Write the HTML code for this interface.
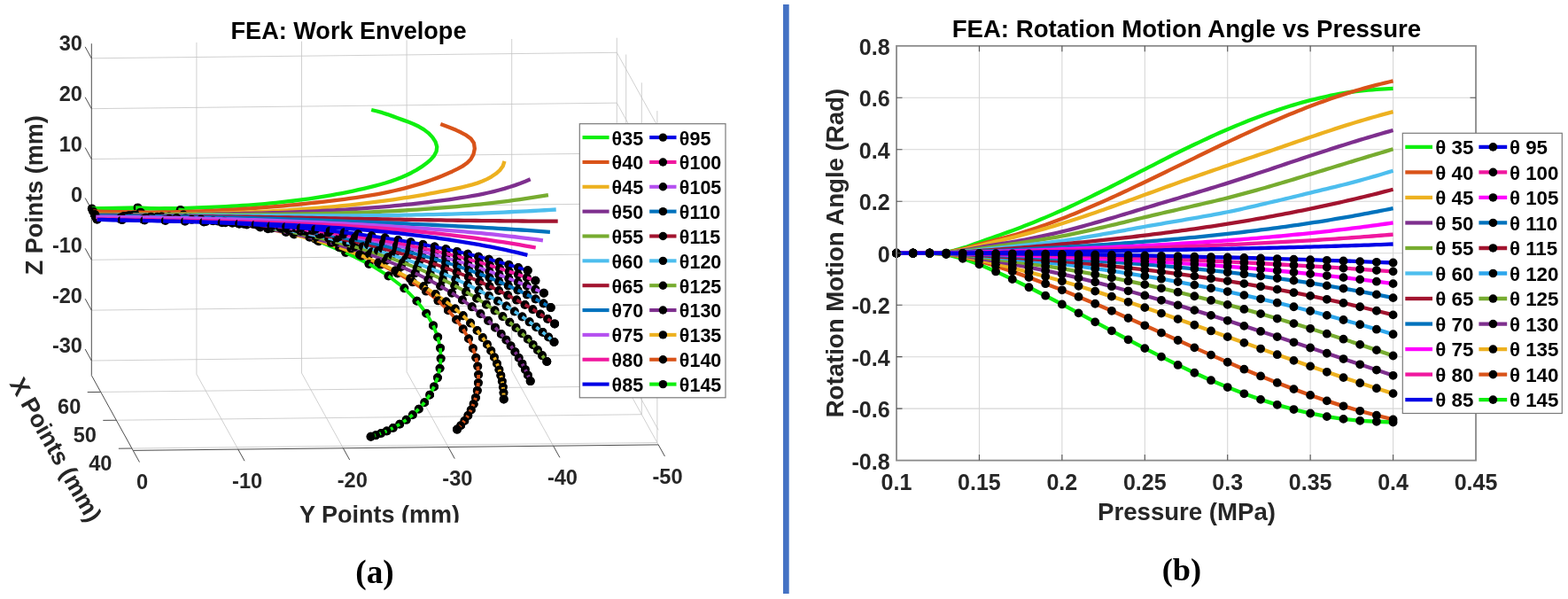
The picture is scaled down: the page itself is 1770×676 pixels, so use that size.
<!DOCTYPE html>
<html lang="en"><head><meta charset="utf-8"><title>FEA: Work Envelope and Rotation Motion Angle vs Pressure</title>
<style>html,body{margin:0;padding:0;background:#fff}body{width:1770px;height:676px;overflow:hidden}svg{display:block}text{font-family:'Liberation Sans', Arial, Helvetica, sans-serif;font-weight:bold}</style>
</head><body>
<svg width="1770" height="676" viewBox="0 0 1770 676">
<rect width="1770" height="676" fill="#fff"/>
<g id="left-chart">
<path d="M221.9 422.3L221.9 47.9M340.5 421L340.5 46.6M459.1 419.7L459.1 45.3M577.7 418.4L577.7 44M696.3 417.1L696.3 42.7M103.3 407L696.3 400.5M103.3 350.13L696.3 343.63M103.3 293.27L696.3 286.77M103.3 236.4L696.3 229.9M103.3 179.53L696.3 173.03M103.3 122.67L696.3 116.17M103.3 65.8L696.3 59.3M113.71 442.43L706.71 435.93M131.3 474.23L724.3 467.73M148.89 506.03L741.89 499.53M221.9 422.3L268.8 507.1M340.5 421L387.4 505.8M459.1 419.7L506 504.5M577.7 418.4L624.6 503.2M696.3 417.1L743.2 501.9M706.71 435.93L706.71 61.53M724.3 467.73L724.3 93.33M741.89 499.53L741.89 125.13M696.3 400.5L743.2 485.3M696.3 343.63L743.2 428.43M696.3 286.77L743.2 371.57M696.3 229.9L743.2 314.7M696.3 173.03L743.2 257.83M696.3 116.17L743.2 200.97M696.3 59.3L743.2 144.1" stroke="#c4c4c4" stroke-width="0.8" fill="none"/>
<path d="M103.3 49.2L103.3 423.6M103.3 423.6L150.2 508.4M150.2 508.4L743.2 501.9M103.3 407L96.14 394.04M103.3 350.13L96.14 337.18M103.3 293.27L96.14 280.31M103.3 236.4L96.14 223.45M103.3 179.53L96.14 166.58M103.3 122.67L96.14 109.72M103.3 65.8L96.14 52.85M113.71 442.43L98.71 442.59M131.3 474.23L116.3 474.39M148.89 506.03L133.89 506.19M150.2 508.4L157.46 521.53M268.8 507.1L276.06 520.23M387.4 505.8L394.66 518.93M506 504.5L513.26 517.63M624.6 503.2L631.86 516.33M743.2 501.9L750.46 515.03" stroke="#4d4d4d" stroke-width="1" fill="none"/>
<g fill="none" stroke-linejoin="round" stroke-width="4.3">
<polyline points="103.8,235.5 110.07,235.52 116.35,235.53 122.63,235.55 128.91,235.56 135.2,235.56 141.49,235.56 147.79,235.55 154.08,235.53 160.38,235.5 166.69,235.47 172.99,235.41 179.29,235.35 185.6,235.27 191.91,235.18 198.21,235.07 204.52,234.94 210.83,234.79 217.14,234.62 223.44,234.43 229.75,234.22 236.05,233.98 242.35,233.72 248.65,233.43 254.95,233.11 261.24,232.77 267.54,232.39 273.83,231.99 280.11,231.55 286.39,231.08 292.67,230.57 298.94,230.03 305.21,229.45 311.47,228.84 317.72,228.18 323.97,227.48 330.22,226.75 336.46,225.97 342.69,225.14 348.91,224.27 355.13,223.35 361.33,222.39 367.53,221.38 373.73,220.31 379.91,219.2 386.08,218.03 392.25,216.81 398.4,215.54 404.55,214.21 410.68,212.82 416.81,211.38 422.92,209.86 429.01,208.26 435.06,206.53 441.07,204.65 447.03,202.58 452.92,200.3 458.73,197.77 464.45,194.96 470.08,191.84 475.59,188.38 480.98,184.54 485.96,180.33 490.03,175.77 492.63,170.86 493.25,165.63 491.6,160.19 488.18,154.88 483.61,150.09 478.4,146.09 472.76,142.78 466.84,140 460.79,137.59 454.76,135.38 448.9,133.24 443.16,131.12 437.45,129.09 431.63,127.19 425.59,125.48 419.2,124" stroke="#0FEF0F"/>
<path d="M103.8 235.5h0M155.58 234.4h0M203.77 236.92h0M248.07 242.46h0M288.68 250.49h0M325.99 260.59h0M360.01 272.29h0M390.33 284.93h0" stroke="#000" stroke-width="10" stroke-linecap="round"/>
<polyline points="103.8,235.5 155.58,234.4 203.77,236.92 248.07,242.46 288.68,250.49 325.99,260.59 360.01,272.29 390.33,284.93 416.59,297.92" stroke="#0FEF0F"/>
<path d="M101.39 239.88A5 5 0 0 1 101.21 231.22ZM153.02 238.69A5 5 0 0 1 153.15 230.04ZM200.9 241.01A5 5 0 0 1 201.65 232.39ZM244.92 246.34A5 5 0 0 1 246.29 237.79ZM285.26 254.14A5 5 0 0 1 287.22 245.71ZM322.86 264.49A5 5 0 0 1 325.58 255.61ZM357.34 276.52A5 5 0 0 1 360.81 267.35ZM388.05 289.38A5 5 0 0 1 392.18 280.28Z" fill="#000" stroke="none"/>
<polyline points="105.34,238.7 111.68,238.9 118.02,239.08 124.35,239.24 130.68,239.37 137.01,239.47 143.34,239.55 149.66,239.6 155.99,239.63 162.3,239.64 168.62,239.62 174.93,239.58 181.25,239.52 187.55,239.43 193.86,239.31 200.17,239.18 206.47,239.02 212.77,238.83 219.07,238.63 225.37,238.4 231.67,238.15 237.96,237.87 244.26,237.57 250.55,237.25 256.84,236.91 263.13,236.55 269.42,236.16 275.71,235.75 282,235.32 288.28,234.87 294.57,234.4 300.86,233.9 307.14,233.39 313.43,232.85 319.71,232.29 326,231.71 332.28,231.11 338.57,230.49 344.85,229.85 351.14,229.19 357.43,228.51 363.71,227.81 370,227.09 376.29,226.34 382.57,225.58 388.86,224.78 395.13,223.94 401.4,223.06 407.67,222.14 413.91,221.15 420.15,220.11 426.37,219.01 432.57,217.83 438.75,216.57 444.92,215.24 451.05,213.81 457.16,212.29 463.25,210.67 469.3,208.94 475.32,207.11 481.31,205.15 487.26,203.08 493.18,200.87 499.05,198.53 504.88,196.05 510.67,193.43 516.41,190.65 522.01,187.63 527.13,184.09 531.41,179.7 534.47,174.16 535.86,167.74 534.99,161.57 531.53,156.58 526.34,152.69 520.56,149.54 514.86,146.84 509.16,144.46 503.35,142.26 497.3,140.1" stroke="#D95319"/>
<path d="M105.34 238.7h0M158.75 239.65h0M207.13 242.58h0M250.69 247.33h0M289.77 253.63h0M324.71 261.21h0M355.86 269.78h0M383.54 279.03h0" stroke="#000" stroke-width="10" stroke-linecap="round"/>
<polyline points="105.34,238.7 158.75,239.65 207.13,242.58 250.69,247.33 289.77,253.63 324.71,261.21 355.86,269.78 383.54,279.03 408.06,288.72" stroke="#D95319"/>
<path d="M102.76 242.98A5 5 0 0 1 102.91 234.33ZM156.08 243.88A5 5 0 0 1 156.41 235.23ZM204.28 246.69A5 5 0 0 1 205 238.06ZM247.64 251.29A5 5 0 0 1 248.78 242.7ZM286.51 257.43A5 5 0 0 1 288.11 248.92ZM321.79 265.27A5 5 0 0 1 323.98 256.27ZM353.39 274.12A5 5 0 0 1 356.22 264.79ZM381.45 283.58A5 5 0 0 1 384.85 274.21Z" fill="#000" stroke="none"/>
<polyline points="106.92,242 112.97,242 119.01,241.99 125.06,241.99 131.1,241.98 137.14,241.97 143.19,241.95 149.23,241.93 155.26,241.91 161.3,241.88 167.34,241.84 173.38,241.8 179.41,241.75 185.44,241.7 191.48,241.64 197.51,241.57 203.54,241.49 209.57,241.4 215.6,241.3 221.62,241.19 227.65,241.07 233.67,240.94 239.7,240.8 245.72,240.65 251.74,240.48 257.76,240.3 263.78,240.1 269.8,239.89 275.81,239.67 281.83,239.43 287.84,239.17 293.85,238.9 299.86,238.61 305.87,238.31 311.88,237.98 317.89,237.64 323.9,237.28 329.9,236.9 335.91,236.5 341.91,236.08 347.91,235.63 353.91,235.17 359.91,234.68 365.91,234.17 371.9,233.64 377.9,233.08 383.89,232.5 389.88,231.9 395.88,231.27 401.87,230.61 407.85,229.93 413.84,229.22 419.83,228.49 425.81,227.72 431.79,226.93 437.78,226.11 443.76,225.26 449.74,224.38 455.71,223.47 461.69,222.53 467.67,221.56 473.64,220.55 479.61,219.52 485.58,218.45 491.55,217.34 497.52,216.21 503.49,215.03 509.45,213.83 515.42,212.59 521.37,211.3 527.29,209.92 533.13,208.38 538.85,206.61 544.42,204.56 549.78,202.15 554.91,199.33 559.76,196.03 564.2,192.16 567.68,187.5 569.5,181.8" stroke="#EDB120"/>
<path d="M106.92 242h0M153.06 242.9h0M195.52 245.02h0M234.42 248.34h0M270 252.79h0M302.46 258.25h0M332.02 264.58h0M358.86 271.62h0M383.37 279.28h0" stroke="#000" stroke-width="10" stroke-linecap="round"/>
<polyline points="106.92,242 153.06,242.9 195.52,245.02 234.42,248.34 270,252.79 302.46,258.25 332.02,264.58 358.86,271.62 383.37,279.28 406.14,287.57" stroke="#EDB120"/>
<path d="M104.34 246.28A5 5 0 0 1 104.51 237.62ZM150.42 247.15A5 5 0 0 1 150.71 238.49ZM192.73 249.17A5 5 0 0 1 193.31 240.53ZM231.49 252.39A5 5 0 0 1 232.39 243.77ZM266.9 256.72A5 5 0 0 1 268.15 248.15ZM299.25 262.09A5 5 0 0 1 300.88 253.51ZM329.28 268.77A5 5 0 0 1 331.45 259.62ZM356.53 276.05A5 5 0 0 1 359.22 266.64ZM381.39 283.87A5 5 0 0 1 384.57 274.42Z" fill="#000" stroke="none"/>
<polyline points="107.11,242.4 113.37,242.36 119.64,242.33 125.9,242.3 132.17,242.27 138.44,242.24 144.71,242.21 150.98,242.18 157.25,242.16 163.52,242.13 169.79,242.1 176.06,242.07 182.34,242.04 188.61,242.01 194.89,241.97 201.16,241.93 207.44,241.89 213.72,241.84 219.99,241.79 226.27,241.73 232.55,241.66 238.83,241.59 245.11,241.51 251.38,241.43 257.66,241.33 263.94,241.23 270.22,241.12 276.5,240.99 282.77,240.86 289.05,240.72 295.33,240.57 301.6,240.4 307.88,240.22 314.15,240.03 320.43,239.83 326.7,239.61 332.97,239.38 339.25,239.14 345.52,238.88 351.79,238.6 358.06,238.31 364.33,238 370.59,237.67 376.86,237.32 383.12,236.96 389.39,236.58 395.65,236.18 401.91,235.76 408.17,235.31 414.42,234.85 420.68,234.37 426.93,233.86 433.18,233.33 439.43,232.78 445.68,232.21 451.93,231.61 458.17,230.98 464.41,230.34 470.65,229.66 476.89,228.96 483.13,228.24 489.36,227.48 495.59,226.7 501.82,225.89 508.04,225.05 514.26,224.17 520.47,223.24 526.66,222.25 532.84,221.19 538.99,220.06 545.13,218.83 551.23,217.51 557.31,216.08 563.35,214.54 569.35,212.87 575.32,211.06 581.24,209.11 587.11,207.01 592.93,204.74 598.7,202.31" stroke="#7E2F8E"/>
<path d="M107.11 242.4h0M150.57 242.71h0M190.83 244.56h0M228 247.66h0M262.26 251.75h0M293.81 256.58h0M322.84 261.92h0M349.54 267.69h0M374.03 273.86h0M396.48 280.34h0" stroke="#000" stroke-width="10" stroke-linecap="round"/>
<polyline points="107.11,242.4 150.57,242.71 190.83,244.56 228,247.66 262.26,251.75 293.81,256.58 322.84,261.92 349.54,267.69 374.03,273.86 396.48,280.34 417.02,287.08" stroke="#7E2F8E"/>
<path d="M104.58 246.71A5 5 0 0 1 104.64 238.05ZM147.96 246.98A5 5 0 0 1 148.18 238.32ZM188.06 248.73A5 5 0 0 1 188.61 240.08ZM225.08 251.72A5 5 0 0 1 225.95 243.11ZM259.2 255.71A5 5 0 0 1 260.36 247.13ZM290.63 260.43A5 5 0 0 1 292.06 251.89ZM320.05 266.07A5 5 0 0 1 321.86 257.02ZM347.21 272.12A5 5 0 0 1 349.41 262.7ZM372.12 278.47A5 5 0 0 1 374.7 268.9ZM394.93 285.09A5 5 0 0 1 397.87 275.54Z" fill="#000" stroke="none"/>
<polyline points="107.3,242.8 113.78,242.72 120.26,242.64 126.73,242.58 133.21,242.52 139.69,242.46 146.18,242.42 152.66,242.38 159.14,242.35 165.63,242.32 172.12,242.29 178.61,242.27 185.1,242.26 191.59,242.24 198.08,242.23 204.57,242.22 211.06,242.21 217.56,242.2 224.05,242.2 230.54,242.19 237.04,242.18 243.54,242.17 250.03,242.15 256.53,242.14 263.02,242.12 269.52,242.1 276.02,242.07 282.52,242.04 289.01,242 295.51,241.96 302.01,241.91 308.5,241.85 315,241.79 321.5,241.71 327.99,241.63 334.49,241.54 340.98,241.44 347.48,241.33 353.97,241.21 360.46,241.08 366.96,240.93 373.45,240.78 379.94,240.61 386.43,240.42 392.92,240.23 399.4,240.02 405.89,239.79 412.38,239.55 418.86,239.29 425.34,239.01 431.82,238.72 438.3,238.41 444.78,238.08 451.26,237.73 457.73,237.36 464.21,236.97 470.68,236.56 477.15,236.13 483.62,235.68 490.08,235.21 496.55,234.71 503.01,234.19 509.47,233.64 515.93,233.07 522.38,232.48 528.84,231.86 535.29,231.22 541.74,230.54 548.18,229.84 554.62,229.12 561.06,228.36 567.5,227.58 573.94,226.77 580.37,225.92 586.8,225.05 593.23,224.14 599.65,223.21 606.07,222.24 612.49,221.24 618.9,220.2" stroke="#77AC30"/>
<path d="M107.3 242.8h0M146.18 243.23h0M182.67 244.59h0M216.82 246.8h0M248.76 249.77h0M278.61 253.42h0M306.47 257.64h0M332.45 262.34h0M356.67 267.45h0M379.23 272.88h0" stroke="#000" stroke-width="10" stroke-linecap="round"/>
<polyline points="107.3,242.8 146.18,243.23 182.67,244.59 216.82,246.8 248.76,249.77 278.61,253.42 306.47,257.64 332.45,262.34 356.67,267.45 379.23,272.88 400.22,278.55" stroke="#77AC30"/>
<path d="M104.76 247.1A5 5 0 0 1 104.85 238.44ZM143.58 247.5A5 5 0 0 1 143.79 238.84ZM179.95 248.79A5 5 0 0 1 180.39 240.14ZM213.99 250.92A5 5 0 0 1 214.67 242.29ZM245.82 253.81A5 5 0 0 1 246.74 245.2ZM275.54 257.37A5 5 0 0 1 276.71 248.79ZM303.44 261.61A5 5 0 0 1 304.88 252.89ZM329.89 266.64A5 5 0 0 1 331.7 257.4ZM354.54 271.98A5 5 0 0 1 356.69 262.45ZM377.49 277.57A5 5 0 0 1 379.95 267.93Z" fill="#000" stroke="none"/>
<polyline points="107.45,243.1 114.03,243.07 120.62,243.05 127.2,243.03 133.79,243.01 140.38,243 146.96,242.99 153.55,242.99 160.14,242.99 166.72,243 173.31,243.01 179.9,243.02 186.48,243.03 193.07,243.05 199.66,243.06 206.25,243.08 212.83,243.11 219.42,243.13 226.01,243.15 232.6,243.18 239.18,243.2 245.77,243.23 252.36,243.25 258.95,243.28 265.54,243.3 272.12,243.33 278.71,243.35 285.3,243.37 291.89,243.4 298.48,243.41 305.06,243.43 311.65,243.45 318.24,243.46 324.83,243.47 331.42,243.48 338,243.48 344.59,243.48 351.18,243.47 357.77,243.47 364.35,243.45 370.94,243.44 377.53,243.42 384.12,243.39 390.7,243.36 397.29,243.32 403.88,243.28 410.46,243.23 417.05,243.17 423.64,243.11 430.22,243.04 436.81,242.96 443.4,242.88 449.98,242.79 456.57,242.69 463.15,242.58 469.74,242.47 476.32,242.34 482.91,242.21 489.49,242.07 496.08,241.91 502.66,241.75 509.24,241.58 515.83,241.4 522.41,241.21 528.99,241 535.58,240.79 542.16,240.57 548.74,240.33 555.32,240.08 561.9,239.82 568.49,239.55 575.07,239.26 581.65,238.96 588.23,238.65 594.81,238.33 601.39,237.99 607.96,237.64 614.54,237.27 621.12,236.89 627.7,236.5" stroke="#4DBEEE"/>
<path d="M107.45 243.1h0M145.69 243.6h0M181.42 244.86h0M214.73 246.82h0M245.76 249.4h0M274.65 252.5h0M301.52 256.07h0M326.51 260h0M349.72 264.25h0M371.28 268.73h0M391.3 273.38h0" stroke="#000" stroke-width="10" stroke-linecap="round"/>
<polyline points="107.45,243.1 145.69,243.6 181.42,244.86 214.73,246.82 245.76,249.4 274.65,252.5 301.52,256.07 326.51,260 349.72,264.25 371.28,268.73 391.3,273.38 409.87,278.15" stroke="#4DBEEE"/>
<path d="M104.89 247.4A5 5 0 0 1 105.01 238.74ZM143.08 247.87A5 5 0 0 1 143.29 239.21ZM178.72 249.07A5 5 0 0 1 179.12 240.42ZM211.93 250.97A5 5 0 0 1 212.54 242.33ZM242.86 253.47A5 5 0 0 1 243.68 244.85ZM271.65 256.51A5 5 0 0 1 272.68 247.91ZM298.46 260.02A5 5 0 0 1 299.71 251.41ZM323.92 264.28A5 5 0 0 1 325.47 255.11ZM347.56 268.76A5 5 0 0 1 349.42 259.26ZM369.52 273.41A5 5 0 0 1 371.65 263.74ZM389.9 278.18A5 5 0 0 1 392.27 268.48Z" fill="#000" stroke="none"/>
<polyline points="107.59,243.4 114.2,243.39 120.81,243.39 127.42,243.39 134.03,243.4 140.64,243.42 147.25,243.44 153.86,243.46 160.47,243.49 167.08,243.53 173.69,243.57 180.3,243.61 186.91,243.66 193.52,243.72 200.13,243.77 206.74,243.84 213.35,243.9 219.95,243.97 226.56,244.05 233.17,244.13 239.78,244.21 246.39,244.29 253,244.38 259.61,244.47 266.22,244.56 272.82,244.66 279.43,244.76 286.04,244.86 292.65,244.96 299.26,245.07 305.87,245.17 312.48,245.28 319.08,245.39 325.69,245.5 332.3,245.62 338.91,245.73 345.52,245.85 352.13,245.96 358.73,246.08 365.34,246.2 371.95,246.32 378.56,246.43 385.17,246.55 391.78,246.67 398.38,246.79 404.99,246.91 411.6,247.03 418.21,247.14 424.82,247.26 431.43,247.38 438.03,247.49 444.64,247.6 451.25,247.71 457.86,247.83 464.47,247.93 471.08,248.04 477.68,248.15 484.29,248.25 490.9,248.35 497.51,248.45 504.12,248.55 510.73,248.64 517.34,248.73 523.95,248.82 530.56,248.9 537.16,248.98 543.77,249.06 550.38,249.14 556.99,249.21 563.6,249.27 570.21,249.34 576.82,249.39 583.43,249.45 590.04,249.5 596.65,249.54 603.26,249.59 609.87,249.62 616.48,249.65 623.09,249.68 629.7,249.7" stroke="#A2142F"/>
<path d="M107.59 243.4h0M143.76 243.8h0M177.67 244.85h0M209.41 246.48h0M239.1 248.63h0M266.85 251.21h0M292.78 254.16h0M317 257.42h0M339.62 260.92h0M360.73 264.62h0M380.42 268.46h0" stroke="#000" stroke-width="10" stroke-linecap="round"/>
<polyline points="107.59,243.4 143.76,243.8 177.67,244.85 209.41,246.48 239.1,248.63 266.85,251.21 292.78,254.16 317,257.42 339.62,260.92 360.73,264.62 380.42,268.46 398.8,272.4" stroke="#A2142F"/>
<path d="M105.04 247.7A5 5 0 0 1 105.14 239.04ZM141.17 248.08A5 5 0 0 1 141.35 239.42ZM175 249.07A5 5 0 0 1 175.35 240.42ZM206.65 250.65A5 5 0 0 1 207.18 242.01ZM236.25 252.74A5 5 0 0 1 236.96 244.1ZM263.92 255.26A5 5 0 0 1 264.81 246.64ZM289.77 258.15A5 5 0 0 1 290.83 249.55ZM314.3 261.62A5 5 0 0 1 315.6 252.62ZM337.35 265.38A5 5 0 0 1 338.9 255.97ZM358.87 269.26A5 5 0 0 1 360.65 259.62ZM378.95 273.24A5 5 0 0 1 380.94 263.49Z" fill="#000" stroke="none"/>
<polyline points="107.74,243.7 114.24,243.72 120.74,243.75 127.24,243.78 133.74,243.82 140.24,243.86 146.74,243.91 153.24,243.97 159.74,244.03 166.24,244.1 172.74,244.17 179.24,244.25 185.74,244.34 192.24,244.43 198.74,244.52 205.24,244.62 211.74,244.73 218.24,244.84 224.74,244.96 231.24,245.08 237.74,245.21 244.24,245.34 250.74,245.48 257.24,245.62 263.74,245.77 270.24,245.93 276.74,246.09 283.24,246.25 289.74,246.42 296.23,246.59 302.73,246.77 309.23,246.96 315.73,247.15 322.23,247.34 328.73,247.54 335.23,247.74 341.72,247.95 348.22,248.16 354.72,248.38 361.22,248.61 367.72,248.83 374.21,249.06 380.71,249.3 387.21,249.54 393.7,249.79 400.2,250.04 406.7,250.29 413.19,250.55 419.69,250.81 426.19,251.08 432.68,251.35 439.18,251.63 445.67,251.91 452.17,252.2 458.66,252.48 465.16,252.78 471.65,253.08 478.14,253.38 484.64,253.68 491.13,254 497.62,254.32 504.12,254.64 510.61,254.97 517.1,255.31 523.59,255.65 530.08,256 536.57,256.36 543.06,256.72 549.55,257.09 556.04,257.47 562.53,257.86 569.02,258.26 575.51,258.67 581.99,259.09 588.48,259.51 594.96,259.95 601.45,260.4 607.93,260.85 614.42,261.32 620.9,261.8" stroke="#0072BD"/>
<path d="M107.74 243.7h0M139.9 243.9h0M170.45 244.66h0M199.41 245.93h0M226.86 247.62h0M252.87 249.69h0M277.51 252.08h0M300.84 254.73h0M322.94 257.6h0M343.85 260.66h0M363.65 263.86h0M382.38 267.17h0" stroke="#000" stroke-width="10" stroke-linecap="round"/>
<polyline points="107.74,243.7 139.9,243.9 170.45,244.66 199.41,245.93 226.86,247.62 252.87,249.69 277.51,252.08 300.84,254.73 322.94,257.6 343.85,260.66 363.65,263.86 382.38,267.17 400.11,270.56" stroke="#0072BD"/>
<path d="M105.21 248.01A5 5 0 0 1 105.26 239.35ZM137.34 248.19A5 5 0 0 1 137.47 239.53ZM167.8 248.9A5 5 0 0 1 168.1 240.25ZM196.69 250.12A5 5 0 0 1 197.14 241.47ZM224.06 251.77A5 5 0 0 1 224.67 243.13ZM250 253.79A5 5 0 0 1 250.76 245.16ZM274.57 256.12A5 5 0 0 1 275.48 247.51ZM297.86 258.74A5 5 0 0 1 298.91 250.12ZM320.4 261.91A5 5 0 0 1 321.66 252.77ZM341.74 265.19A5 5 0 0 1 343.19 255.7ZM361.93 268.56A5 5 0 0 1 363.57 258.86ZM381.05 271.99A5 5 0 0 1 382.85 262.19Z" fill="#000" stroke="none"/>
<path d="M108.26 244.8h0M137.02 245.13h0M164.6 245.76h0M191.03 246.67h0M216.36 247.85h0M240.62 249.28h0M263.86 250.96h0M286.12 252.86h0M307.42 254.96h0M327.82 257.26h0M347.35 259.72h0M366.03 262.34h0M383.9 265.09h0" stroke="#000" stroke-width="10" stroke-linecap="round"/>
<polyline points="108.26,244.8 137.02,245.13 164.6,245.76 191.03,246.67 216.36,247.85 240.62,249.28 263.86,250.96 286.12,252.86 307.42,254.96 327.82,257.26 347.35,259.72 366.03,262.34 383.9,265.09 401,267.96" stroke="#B550F0"/>
<path d="M105.71 249.1A5 5 0 0 1 105.82 240.44ZM134.44 249.42A5 5 0 0 1 134.59 240.76ZM161.97 250.02A5 5 0 0 1 162.22 241.36ZM188.36 250.9A5 5 0 0 1 188.71 242.24ZM213.63 252.04A5 5 0 0 1 214.09 243.39ZM237.84 253.44A5 5 0 0 1 238.41 244.8ZM261.03 255.08A5 5 0 0 1 261.71 246.45ZM283.23 256.94A5 5 0 0 1 284.02 248.32ZM304.66 259.13A5 5 0 0 1 305.59 250.31ZM325.48 261.67A5 5 0 0 1 326.58 252.41ZM345.41 264.33A5 5 0 0 1 346.68 254.77ZM364.47 267.09A5 5 0 0 1 365.9 257.34ZM382.71 269.95A5 5 0 0 1 384.3 260.11Z" fill="#000" stroke="none"/>
<path d="M109.42 247.2h0M135.84 247.25h0M161.34 247.56h0M185.93 248.12h0M209.63 248.92h0M232.48 249.94h0M254.5 251.17h0M275.72 252.6h0M296.17 254.2h0M315.87 255.97h0M334.85 257.89h0M353.13 259.95h0M370.73 262.13h0M387.68 264.42h0" stroke="#000" stroke-width="10" stroke-linecap="round"/>
<polyline points="109.42,247.2 135.84,247.25 161.34,247.56 185.93,248.12 209.63,248.92 232.48,249.94 254.5,251.17 275.72,252.6 296.17,254.2 315.87,255.97 334.85,257.89 353.13,259.95 370.73,262.13 387.68,264.42 404,266.8" stroke="#F0189F"/>
<path d="M106.91 251.53A5 5 0 0 1 106.92 242.87ZM133.32 251.56A5 5 0 0 1 133.37 242.9ZM158.77 251.84A5 5 0 0 1 158.92 243.18ZM183.31 252.38A5 5 0 0 1 183.55 243.72ZM206.97 253.15A5 5 0 0 1 207.31 244.49ZM229.77 254.14A5 5 0 0 1 230.2 245.49ZM251.74 255.34A5 5 0 0 1 252.27 246.7ZM272.92 256.74A5 5 0 0 1 273.54 248.1ZM293.32 258.31A5 5 0 0 1 294.04 249.68ZM313.35 260.29A5 5 0 0 1 314.21 251.26ZM332.73 262.42A5 5 0 0 1 333.73 253.02ZM351.39 264.64A5 5 0 0 1 352.53 254.98ZM369.37 266.94A5 5 0 0 1 370.64 257.13ZM386.68 269.32A5 5 0 0 1 388.07 259.43Z" fill="#000" stroke="none"/>
<path d="M109.75 247.8h0M137.87 248.11h0M163.28 248.51h0M186.73 249.02h0M208.89 249.64h0M230.14 250.38h0M250.63 251.24h0M270.19 252.23h0M288.67 253.31h0M306.22 254.48h0M323.15 255.77h0M339.75 257.17h0M356.25 258.73h0M372.66 260.44h0M388.74 262.29h0" stroke="#000" stroke-width="10" stroke-linecap="round"/>
<polyline points="109.75,247.8 137.87,248.11 163.28,248.51 186.73,249.02 208.89,249.64 230.14,250.38 250.63,251.24 270.19,252.23 288.67,253.31 306.22,254.48 323.15,255.77 339.75,257.17 356.25,258.73 372.66,260.44 388.74,262.29 404.34,264.25" stroke="#0000E6"/>
<polyline points="108.26,244.8 114.66,244.85 121.05,244.91 127.45,244.98 133.85,245.04 140.24,245.12 146.64,245.19 153.04,245.27 159.44,245.36 165.83,245.45 172.23,245.55 178.63,245.65 185.03,245.76 191.43,245.87 197.83,245.99 204.23,246.11 210.63,246.24 217.03,246.37 223.43,246.51 229.83,246.66 236.23,246.81 242.63,246.97 249.03,247.13 255.43,247.3 261.83,247.48 268.23,247.66 274.63,247.85 281.03,248.05 287.43,248.25 293.83,248.46 300.23,248.68 306.63,248.9 313.03,249.13 319.43,249.37 325.83,249.61 332.22,249.87 338.62,250.13 345.02,250.39 351.42,250.67 357.81,250.95 364.21,251.24 370.6,251.54 377,251.85 383.39,252.16 389.79,252.49 396.18,252.82 402.57,253.16 408.97,253.51 415.36,253.86 421.75,254.23 428.14,254.6 434.53,254.99 440.92,255.38 447.31,255.78 453.69,256.19 460.08,256.61 466.47,257.04 472.85,257.48 479.23,257.93 485.62,258.39 492,258.87 498.38,259.36 504.76,259.86 511.13,260.38 517.51,260.91 523.88,261.46 530.25,262.02 536.62,262.61 542.99,263.21 549.36,263.83 555.72,264.48 562.09,265.14 568.45,265.83 574.81,266.53 581.16,267.26 587.51,268.02 593.86,268.8 600.21,269.61 606.56,270.44 612.9,271.3" stroke="#B550F0"/>
<polyline points="109.42,247.2 115.69,247.31 121.97,247.42 128.24,247.52 134.52,247.63 140.8,247.73 147.09,247.83 153.37,247.93 159.65,248.03 165.94,248.13 172.23,248.23 178.52,248.33 184.8,248.43 191.09,248.53 197.38,248.64 203.68,248.75 209.97,248.86 216.26,248.97 222.55,249.09 228.85,249.21 235.14,249.34 241.44,249.47 247.73,249.6 254.03,249.74 260.32,249.89 266.62,250.05 272.91,250.21 279.21,250.38 285.5,250.55 291.8,250.74 298.09,250.93 304.38,251.13 310.68,251.35 316.97,251.57 323.26,251.8 329.56,252.04 335.85,252.3 342.14,252.56 348.43,252.84 354.72,253.13 361,253.43 367.29,253.74 373.58,254.07 379.86,254.42 386.14,254.77 392.42,255.14 398.7,255.53 404.98,255.93 411.26,256.35 417.54,256.79 423.81,257.24 430.08,257.71 436.35,258.19 442.62,258.7 448.89,259.22 455.15,259.76 461.41,260.32 467.67,260.9 473.93,261.51 480.19,262.13 486.44,262.77 492.69,263.43 498.94,264.12 505.18,264.83 511.43,265.56 517.67,266.31 523.9,267.09 530.14,267.89 536.37,268.71 542.6,269.56 548.82,270.43 555.05,271.33 561.26,272.26 567.48,273.21 573.69,274.19 579.9,275.2 586.11,276.23 592.31,277.29 598.51,278.38 604.7,279.5" stroke="#F0189F"/>
<polyline points="109.7,247.8 115.86,247.95 122.02,248.1 128.18,248.24 134.35,248.38 140.51,248.52 146.68,248.66 152.85,248.79 159.02,248.92 165.2,249.06 171.37,249.19 177.55,249.32 183.73,249.46 189.91,249.59 196.09,249.73 202.27,249.87 208.46,250.01 214.64,250.16 220.83,250.31 227.01,250.46 233.2,250.62 239.39,250.79 245.58,250.96 251.76,251.13 257.95,251.32 264.14,251.51 270.33,251.71 276.52,251.92 282.7,252.13 288.89,252.36 295.08,252.6 301.27,252.84 307.45,253.1 313.64,253.37 319.82,253.65 326,253.94 332.19,254.25 338.37,254.57 344.55,254.9 350.73,255.25 356.9,255.62 363.08,255.99 369.25,256.39 375.43,256.8 381.6,257.23 387.77,257.68 393.93,258.14 400.1,258.62 406.26,259.12 412.42,259.64 418.57,260.19 424.73,260.75 430.88,261.33 437.03,261.93 443.18,262.56 449.32,263.21 455.46,263.88 461.6,264.57 467.73,265.29 473.86,266.04 479.98,266.81 486.11,267.61 492.22,268.43 498.34,269.29 504.45,270.18 510.55,271.09 516.65,272.04 522.74,273.03 528.83,274.04 534.92,275.1 540.99,276.19 547.07,277.31 553.13,278.48 559.19,279.68 565.24,280.93 571.29,282.21 577.33,283.54 583.36,284.92 589.38,286.33 595.4,287.8" stroke="#0000E6"/>
<path d="M107.2 252.1A5 5 0 0 1 107.3 243.44ZM135.32 252.4A5 5 0 0 1 135.43 243.74ZM160.7 252.79A5 5 0 0 1 160.86 244.14ZM184.12 253.29A5 5 0 0 1 184.33 244.63ZM206.25 253.89A5 5 0 0 1 206.53 245.23ZM227.48 254.61A5 5 0 0 1 227.81 245.95ZM247.93 255.45A5 5 0 0 1 248.33 246.8ZM267.46 256.41A5 5 0 0 1 267.93 247.77ZM285.91 257.47A5 5 0 0 1 286.45 248.83ZM303.57 258.72A5 5 0 0 1 304.2 249.91ZM320.86 260.21A5 5 0 0 1 321.6 251.01ZM337.82 261.79A5 5 0 0 1 338.67 252.29ZM354.68 263.48A5 5 0 0 1 355.65 253.77ZM371.44 265.29A5 5 0 0 1 372.52 255.44ZM387.87 267.21A5 5 0 0 1 389.06 257.3Z" fill="#000" stroke="none"/>
</g>
<g fill="none" stroke-linejoin="round" stroke-width="3.8">
<path d="M416.59 297.92h0M438.54 311.38h0M456.42 325.36h0M470.54 339.63h0M481.28 353.73h0M489.07 367.38h0M494.24 380.45h0M497.02 392.9h0M497.64 404.7h0M496.51 415.81h0M493.92 426.36h0M490.04 436.4h0M485.05 445.74h0M479.17 454.22h0M472.65 461.73h0M465.76 468.2h0M458.58 473.84h0M451.11 478.79h0M443.64 482.99h0M436.56 486.39h0M430.05 489.06h0M424.11 491.16h0M418.6 492.8h0M408.06 288.72h0M429.73 298.6h0M448.85 308.48h0M465.8 318.35h0M481.04 328.61h0M494.6 339.37h0M505.97 350.21h0M515.18 360.79h0M522.8 371.44h0M529.08 382.32h0M533.93 393.18h0M537.3 403.68h0M539.28 413.57h0M540.09 422.98h0M539.89 432.15h0M538.78 440.9h0M536.94 448.89h0M534.56 456.1h0M531.68 462.76h0M528.24 469.09h0M524.28 475.04h0M520.06 480.31h0M516 484.6h0M406.14 287.57h0M427.3 296.44h0M446.36 305.5h0M463.15 314.42h0M478.13 323.21h0M491.68 331.93h0M503.63 340.42h0M513.81 348.46h0M522.79 356.37h0M531.13 364.62h0M538.61 373.03h0M544.88 381.1h0M550.04 388.72h0M554.36 396.08h0M558.02 403.33h0M561.06 410.43h0M563.49 417.24h0M565.4 423.89h0M566.87 430.5h0M567.89 436.98h0M568.5 443.48h0M568.7 450.5h0M417.02 287.08h0M435.78 294h0M452.94 301.03h0M468.79 308.19h0M483.54 315.51h0M497.32 323h0M510.13 330.68h0M521.97 338.5h0M532.77 346.37h0M542.47 354.17h0M551.24 361.96h0M559.09 369.66h0M565.8 376.92h0M571.51 383.7h0M576.71 390.46h0M581.52 397.33h0M585.8 404.07h0M589.59 410.66h0M592.96 417.14h0M595.97 423.57h0M598.7 430.1h0M400.22 278.55h0M419.74 284.39h0M437.89 290.33h0M454.8 296.38h0M470.69 302.57h0M485.69 308.95h0M499.83 315.5h0M513.23 322.27h0M526.13 329.37h0M538.2 336.63h0M548.98 343.66h0M558.63 350.48h0M567.49 357.23h0M575.44 363.74h0M582.6 370.01h0M589.38 376.36h0M595.84 382.82h0M601.75 389.14h0M607.08 395.21h0M612.14 401.34h0M617.3 408h0M409.87 278.15h0M427.06 282.99h0M442.95 287.83h0M457.9 292.73h0M472.54 297.89h0M487.03 303.38h0M500.98 309.07h0M514.44 314.97h0M527.81 321.26h0M540.53 327.7h0M551.87 333.83h0M562.08 339.71h0M571.69 345.59h0M580.88 351.53h0M589.57 357.47h0M597.7 363.34h0M605.36 369.16h0M612.56 374.91h0M619.25 380.51h0M625.5 386h0M398.8 272.4h0M415.94 276.4h0M431.86 280.41h0M446.63 284.4h0M460.65 288.44h0M474.57 292.72h0M488.53 297.31h0M502.23 302.13h0M515.65 307.17h0M528.87 312.49h0M541.34 317.84h0M552.61 322.98h0M563.09 328.03h0M573.3 333.24h0M583.25 338.6h0M592.65 343.94h0M601.5 349.23h0M610.04 354.58h0M618.26 359.99h0M626.1 365.4h0M400.11 270.56h0M416.88 274.01h0M432.74 277.48h0M447.8 280.99h0M462.26 284.57h0M476.34 288.29h0M489.99 292.13h0M503.16 296.08h0M516.18 300.24h0M529.1 304.65h0M541.38 309.13h0M552.64 313.5h0M563.27 317.87h0M573.89 322.5h0M584.56 327.43h0M594.91 332.5h0M604.64 337.54h0M613.61 342.45h0M621.7 347.1h0M401 267.96h0M417.35 270.94h0M432.96 274h0M447.89 277.15h0M462.41 280.43h0M476.67 283.88h0M490.34 287.39h0M503.25 290.91h0M515.8 294.54h0M528.38 298.38h0M540.73 302.36h0M552.42 306.33h0M563.53 310.29h0M574.35 314.34h0M584.82 318.43h0M594.78 322.5h0M604.4 326.59h0M613.9 330.8h0M404 266.8h0M419.72 269.28h0M434.81 271.84h0M449.27 274.47h0M463.26 277.2h0M477.09 280.07h0M490.67 283.08h0M503.6 286.13h0M516.03 289.24h0M528.48 292.54h0M540.97 296.03h0M552.96 299.56h0M564.16 303.01h0M574.71 306.41h0M584.94 309.83h0M594.91 313.29h0M604.4 316.7h0M404.34 264.25h0M419.6 266.33h0M434.69 268.56h0M449.44 270.92h0M463.7 273.37h0M477.49 275.9h0M490.71 278.49h0M503.46 281.13h0M515.95 283.88h0M528.19 286.72h0M540.17 289.65h0M551.97 292.68h0M563.45 295.78h0M574.45 298.89h0M585.13 302.04h0M595.7 305.3h0" stroke="#000" stroke-width="10" stroke-linecap="round"/>
<polyline points="416.59,297.92 438.54,311.38 456.42,325.36 470.54,339.63 481.28,353.73 489.07,367.38 494.24,380.45 497.02,392.9 497.64,404.7 496.51,415.81 493.92,426.36 490.04,436.4 485.05,445.74 479.17,454.22 472.65,461.73 465.76,468.2 458.58,473.84 451.11,478.79 443.64,482.99 436.56,486.39 430.05,489.06 424.11,491.16 418.6,492.8" stroke="#0FEF0F"/>
<polyline points="408.06,288.72 429.73,298.6 448.85,308.48 465.8,318.35 481.04,328.61 494.6,339.37 505.97,350.21 515.18,360.79 522.8,371.44 529.08,382.32 533.93,393.18 537.3,403.68 539.28,413.57 540.09,422.98 539.89,432.15 538.78,440.9 536.94,448.89 534.56,456.1 531.68,462.76 528.24,469.09 524.28,475.04 520.06,480.31 516,484.6" stroke="#D95319"/>
<polyline points="406.14,287.57 427.3,296.44 446.36,305.5 463.15,314.42 478.13,323.21 491.68,331.93 503.63,340.42 513.81,348.46 522.79,356.37 531.13,364.62 538.61,373.03 544.88,381.1 550.04,388.72 554.36,396.08 558.02,403.33 561.06,410.43 563.49,417.24 565.4,423.89 566.87,430.5 567.89,436.98 568.5,443.48 568.7,450.5" stroke="#EDB120"/>
<polyline points="417.02,287.08 435.78,294 452.94,301.03 468.79,308.19 483.54,315.51 497.32,323 510.13,330.68 521.97,338.5 532.77,346.37 542.47,354.17 551.24,361.96 559.09,369.66 565.8,376.92 571.51,383.7 576.71,390.46 581.52,397.33 585.8,404.07 589.59,410.66 592.96,417.14 595.97,423.57 598.7,430.1" stroke="#7E2F8E"/>
<polyline points="400.22,278.55 419.74,284.39 437.89,290.33 454.8,296.38 470.69,302.57 485.69,308.95 499.83,315.5 513.23,322.27 526.13,329.37 538.2,336.63 548.98,343.66 558.63,350.48 567.49,357.23 575.44,363.74 582.6,370.01 589.38,376.36 595.84,382.82 601.75,389.14 607.08,395.21 612.14,401.34 617.3,408" stroke="#77AC30"/>
<polyline points="409.87,278.15 427.06,282.99 442.95,287.83 457.9,292.73 472.54,297.89 487.03,303.38 500.98,309.07 514.44,314.97 527.81,321.26 540.53,327.7 551.87,333.83 562.08,339.71 571.69,345.59 580.88,351.53 589.57,357.47 597.7,363.34 605.36,369.16 612.56,374.91 619.25,380.51 625.5,386" stroke="#4DBEEE"/>
<polyline points="398.8,272.4 415.94,276.4 431.86,280.41 446.63,284.4 460.65,288.44 474.57,292.72 488.53,297.31 502.23,302.13 515.65,307.17 528.87,312.49 541.34,317.84 552.61,322.98 563.09,328.03 573.3,333.24 583.25,338.6 592.65,343.94 601.5,349.23 610.04,354.58 618.26,359.99 626.1,365.4" stroke="#A2142F"/>
<polyline points="400.11,270.56 416.88,274.01 432.74,277.48 447.8,280.99 462.26,284.57 476.34,288.29 489.99,292.13 503.16,296.08 516.18,300.24 529.1,304.65 541.38,309.13 552.64,313.5 563.27,317.87 573.89,322.5 584.56,327.43 594.91,332.5 604.64,337.54 613.61,342.45 621.7,347.1" stroke="#0072BD"/>
<polyline points="401,267.96 417.35,270.94 432.96,274 447.89,277.15 462.41,280.43 476.67,283.88 490.34,287.39 503.25,290.91 515.8,294.54 528.38,298.38 540.73,302.36 552.42,306.33 563.53,310.29 574.35,314.34 584.82,318.43 594.78,322.5 604.4,326.59 613.9,330.8" stroke="#B550F0"/>
<polyline points="404,266.8 419.72,269.28 434.81,271.84 449.27,274.47 463.26,277.2 477.09,280.07 490.67,283.08 503.6,286.13 516.03,289.24 528.48,292.54 540.97,296.03 552.96,299.56 564.16,303.01 574.71,306.41 584.94,309.83 594.91,313.29 604.4,316.7" stroke="#F0189F"/>
<polyline points="404.34,264.25 419.6,266.33 434.69,268.56 449.44,270.92 463.7,273.37 477.49,275.9 490.71,278.49 503.46,281.13 515.95,283.88 528.19,286.72 540.17,289.65 551.97,292.68 563.45,295.78 574.45,298.89 585.13,302.04 595.7,305.3" stroke="#0000E6"/>
</g>
<path d="M414.18 302.31A5 5 0 0 1 418.99 293.54ZM435.71 315.5A5 5 0 0 1 441.38 307.27ZM453.11 329.11A5 5 0 0 1 459.73 321.62ZM466.78 342.93A5 5 0 0 1 474.3 336.34ZM477.13 356.51A5 5 0 0 1 485.44 350.96ZM484.58 369.57A5 5 0 0 1 493.57 365.2ZM489.47 381.94A5 5 0 0 1 499.02 378.97ZM492.07 393.59A5 5 0 0 1 501.97 392.2ZM492.64 404.59A5 5 0 0 1 502.64 404.81ZM491.58 414.96A5 5 0 0 1 501.44 416.65ZM489.15 424.86A5 5 0 0 1 498.69 427.86ZM485.49 434.32A5 5 0 0 1 494.58 438.48ZM480.78 443.13A5 5 0 0 1 489.31 448.34ZM475.22 451.16A5 5 0 0 1 483.12 457.28ZM469.04 458.27A5 5 0 0 1 476.26 465.19ZM462.5 464.41A5 5 0 0 1 469.02 471.99ZM455.65 469.78A5 5 0 0 1 461.51 477.89ZM448.5 474.52A5 5 0 0 1 453.72 483.05ZM441.33 478.56A5 5 0 0 1 445.96 487.42ZM434.52 481.83A5 5 0 0 1 438.6 490.96ZM428.27 484.39A5 5 0 0 1 431.84 493.73ZM422.56 486.4A5 5 0 0 1 425.66 495.91ZM418.6 492.8m-5 0a5 5 0 1 0 10 0a5 5 0 1 0 -10 0ZM406.11 293.32A5 5 0 0 1 410.01 284.12ZM427.55 303.1A5 5 0 0 1 431.91 294.1ZM446.45 312.86A5 5 0 0 1 451.25 304.09ZM463.15 322.59A5 5 0 0 1 468.45 314.11ZM478.09 332.64A5 5 0 0 1 483.99 324.57ZM491.32 343.15A5 5 0 0 1 497.87 335.59ZM502.37 353.67A5 5 0 0 1 509.58 346.74ZM511.26 363.9A5 5 0 0 1 519.1 357.69ZM518.6 374.15A5 5 0 0 1 527 368.72ZM524.63 384.59A5 5 0 0 1 533.53 380.04ZM529.26 394.97A5 5 0 0 1 538.59 391.38ZM532.46 404.95A5 5 0 0 1 542.13 402.41ZM534.33 414.28A5 5 0 0 1 544.23 412.85ZM535.09 423.14A5 5 0 0 1 545.09 422.81ZM534.9 431.78A5 5 0 0 1 544.87 432.51ZM533.85 440.03A5 5 0 0 1 543.7 441.76ZM532.13 447.56A5 5 0 0 1 541.76 450.23ZM529.89 454.33A5 5 0 0 1 539.24 457.88ZM527.18 460.57A5 5 0 0 1 536.17 464.95ZM523.96 466.5A5 5 0 0 1 532.53 471.67ZM520.24 472.09A5 5 0 0 1 528.32 477.98ZM516.28 477.04A5 5 0 0 1 523.84 483.58ZM516 484.6m-5 0a5 5 0 1 0 10 0a5 5 0 1 0 -10 0ZM404.32 292.23A5 5 0 0 1 407.96 282.92ZM425.26 301A5 5 0 0 1 429.34 291.87ZM444.12 309.97A5 5 0 0 1 448.6 301.03ZM460.72 318.79A5 5 0 0 1 465.59 310.05ZM475.52 327.47A5 5 0 0 1 480.75 318.95ZM488.89 336.08A5 5 0 0 1 494.48 327.79ZM500.63 344.43A5 5 0 0 1 506.62 336.42ZM510.61 352.31A5 5 0 0 1 517.01 344.62ZM519.38 360.03A5 5 0 0 1 526.2 352.71ZM527.51 368.06A5 5 0 0 1 534.76 361.18ZM534.78 376.24A5 5 0 0 1 542.45 369.83ZM540.84 384.04A5 5 0 0 1 548.92 378.16ZM545.81 391.39A5 5 0 0 1 554.26 386.05ZM549.97 398.48A5 5 0 0 1 558.74 393.68ZM553.49 405.45A5 5 0 0 1 562.55 401.22ZM556.41 412.26A5 5 0 0 1 565.71 408.6ZM558.73 418.78A5 5 0 0 1 568.24 415.71ZM560.55 425.12A5 5 0 0 1 570.24 422.65ZM561.96 431.44A5 5 0 0 1 571.78 429.57ZM562.93 437.61A5 5 0 0 1 572.85 436.36ZM563.51 443.78A5 5 0 0 1 573.5 443.18ZM568.7 450.5m-5 0a5 5 0 1 0 10 0a5 5 0 1 0 -10 0ZM415.38 291.8A5 5 0 0 1 418.66 282.36ZM433.97 298.66A5 5 0 0 1 437.59 289.34ZM450.97 305.63A5 5 0 0 1 454.92 296.44ZM466.65 312.71A5 5 0 0 1 470.93 303.67ZM481.24 319.95A5 5 0 0 1 485.85 311.07ZM494.84 327.35A5 5 0 0 1 499.79 318.66ZM507.47 334.91A5 5 0 0 1 512.79 326.44ZM519.13 342.61A5 5 0 0 1 524.82 334.39ZM529.74 350.34A5 5 0 0 1 535.81 342.39ZM539.25 357.99A5 5 0 0 1 545.7 350.35ZM547.83 365.61A5 5 0 0 1 554.64 358.3ZM555.51 373.15A5 5 0 0 1 562.68 366.18ZM562.06 380.23A5 5 0 0 1 569.55 373.61ZM567.62 386.83A5 5 0 0 1 575.41 380.56ZM572.68 393.42A5 5 0 0 1 580.75 387.5ZM577.36 400.1A5 5 0 0 1 585.68 394.55ZM581.52 406.66A5 5 0 0 1 590.08 401.48ZM585.2 413.06A5 5 0 0 1 593.97 408.26ZM588.48 419.35A5 5 0 0 1 597.44 414.93ZM591.4 425.6A5 5 0 0 1 600.54 421.55ZM598.7 430.1m-5 0a5 5 0 1 0 10 0a5 5 0 1 0 -10 0ZM398.85 283.36A5 5 0 0 1 401.58 273.74ZM418.25 289.16A5 5 0 0 1 421.23 279.61ZM436.27 295.07A5 5 0 0 1 439.51 285.6ZM453.05 301.06A5 5 0 0 1 456.55 291.69ZM468.8 307.2A5 5 0 0 1 472.57 297.94ZM483.66 313.52A5 5 0 0 1 487.72 304.38ZM497.65 320A5 5 0 0 1 502 311ZM510.9 326.69A5 5 0 0 1 515.56 317.85ZM523.63 333.71A5 5 0 0 1 528.62 325.04ZM535.55 340.87A5 5 0 0 1 540.86 332.39ZM546.17 347.8A5 5 0 0 1 551.78 339.52ZM555.67 354.51A5 5 0 0 1 561.59 346.45ZM564.39 361.15A5 5 0 0 1 570.58 353.3ZM572.21 367.56A5 5 0 0 1 578.67 359.92ZM579.25 373.72A5 5 0 0 1 585.96 366.31ZM585.9 379.95A5 5 0 0 1 592.86 372.77ZM592.25 386.3A5 5 0 0 1 599.43 379.34ZM598.05 392.5A5 5 0 0 1 605.45 385.78ZM603.28 398.45A5 5 0 0 1 610.89 391.96ZM608.24 404.46A5 5 0 0 1 616.05 398.21ZM617.3 408m-5 0a5 5 0 1 0 10 0a5 5 0 1 0 -10 0ZM408.57 282.98A5 5 0 0 1 411.16 273.32ZM425.66 287.79A5 5 0 0 1 428.46 278.19ZM441.45 292.6A5 5 0 0 1 444.46 283.06ZM456.29 297.47A5 5 0 0 1 459.51 288ZM470.82 302.59A5 5 0 0 1 474.26 293.19ZM485.2 308.04A5 5 0 0 1 488.86 298.73ZM499.03 313.67A5 5 0 0 1 502.92 304.46ZM512.37 319.52A5 5 0 0 1 516.51 310.41ZM525.62 325.75A5 5 0 0 1 530 316.77ZM538.22 332.13A5 5 0 0 1 542.85 323.26ZM549.43 338.2A5 5 0 0 1 554.3 329.47ZM559.52 344.01A5 5 0 0 1 564.63 335.41ZM569.03 349.82A5 5 0 0 1 574.36 341.36ZM578.11 355.7A5 5 0 0 1 583.65 347.37ZM586.7 361.57A5 5 0 0 1 592.44 353.38ZM594.73 367.36A5 5 0 0 1 600.68 359.32ZM602.29 373.11A5 5 0 0 1 608.44 365.22ZM609.4 378.78A5 5 0 0 1 615.73 371.04ZM616 384.31A5 5 0 0 1 622.5 376.72ZM625.5 386m-5 0a5 5 0 1 0 10 0a5 5 0 1 0 -10 0ZM397.71 277.28A5 5 0 0 1 399.89 267.52ZM414.76 281.26A5 5 0 0 1 417.11 271.54ZM430.6 285.25A5 5 0 0 1 433.12 275.57ZM445.29 289.21A5 5 0 0 1 447.97 279.58ZM459.23 293.23A5 5 0 0 1 462.08 283.65ZM473.06 297.48A5 5 0 0 1 476.09 287.96ZM486.92 302.04A5 5 0 0 1 490.14 292.58ZM500.52 306.82A5 5 0 0 1 503.94 297.43ZM513.84 311.83A5 5 0 0 1 517.46 302.51ZM526.95 317.1A5 5 0 0 1 530.79 307.87ZM539.32 322.41A5 5 0 0 1 543.36 313.26ZM550.49 327.5A5 5 0 0 1 554.74 318.45ZM560.86 332.51A5 5 0 0 1 565.31 323.56ZM570.98 337.67A5 5 0 0 1 575.62 328.82ZM580.83 342.98A5 5 0 0 1 585.67 334.23ZM590.13 348.26A5 5 0 0 1 595.16 339.62ZM598.89 353.49A5 5 0 0 1 604.11 344.97ZM607.34 358.79A5 5 0 0 1 612.74 350.38ZM615.47 364.14A5 5 0 0 1 621.05 355.85ZM626.1 365.4m-5 0a5 5 0 1 0 10 0a5 5 0 1 0 -10 0ZM399.13 275.46A5 5 0 0 1 401.08 265.66ZM415.84 278.9A5 5 0 0 1 417.91 269.11ZM431.64 282.36A5 5 0 0 1 433.84 272.61ZM446.63 285.85A5 5 0 0 1 448.97 276.13ZM461.02 289.42A5 5 0 0 1 463.5 279.73ZM475.03 293.11A5 5 0 0 1 477.66 283.46ZM488.6 296.93A5 5 0 0 1 491.38 287.32ZM501.68 300.85A5 5 0 0 1 504.64 291.3ZM514.61 304.99A5 5 0 0 1 517.75 295.49ZM527.44 309.37A5 5 0 0 1 530.76 299.94ZM539.62 313.81A5 5 0 0 1 543.14 304.45ZM550.78 318.14A5 5 0 0 1 554.49 308.85ZM561.32 322.47A5 5 0 0 1 565.22 313.27ZM571.84 327.06A5 5 0 0 1 575.94 317.93ZM582.42 331.94A5 5 0 0 1 586.71 322.91ZM592.66 336.96A5 5 0 0 1 597.16 328.03ZM602.29 341.95A5 5 0 0 1 606.99 333.13ZM611.17 346.81A5 5 0 0 1 616.05 338.09ZM621.7 347.1m-5 0a5 5 0 1 0 10 0a5 5 0 1 0 -10 0ZM400.14 272.89A5 5 0 0 1 401.86 263.04ZM416.42 275.85A5 5 0 0 1 418.28 266.02ZM431.96 278.9A5 5 0 0 1 433.95 269.1ZM446.82 282.04A5 5 0 0 1 448.95 272.27ZM461.28 285.3A5 5 0 0 1 463.55 275.57ZM475.46 288.73A5 5 0 0 1 477.88 279.02ZM489.06 292.22A5 5 0 0 1 491.62 282.56ZM501.9 295.73A5 5 0 0 1 504.61 286.1ZM514.38 299.33A5 5 0 0 1 517.23 289.75ZM526.88 303.15A5 5 0 0 1 529.87 293.61ZM539.17 307.11A5 5 0 0 1 542.3 297.61ZM550.78 311.05A5 5 0 0 1 554.07 301.61ZM561.81 314.99A5 5 0 0 1 565.24 305.59ZM572.56 319.01A5 5 0 0 1 576.13 309.67ZM582.96 323.07A5 5 0 0 1 586.67 313.79ZM592.86 327.11A5 5 0 0 1 596.71 317.88ZM602.41 331.18A5 5 0 0 1 606.39 322.01ZM613.9 330.8m-5 0a5 5 0 1 0 10 0a5 5 0 1 0 -10 0ZM403.25 271.75A5 5 0 0 1 404.75 261.86ZM418.91 274.22A5 5 0 0 1 420.52 264.35ZM433.95 276.77A5 5 0 0 1 435.68 266.92ZM448.35 279.39A5 5 0 0 1 450.2 269.56ZM462.27 282.1A5 5 0 0 1 464.24 272.3ZM476.04 284.96A5 5 0 0 1 478.14 275.18ZM489.56 287.96A5 5 0 0 1 491.79 278.21ZM502.42 290.99A5 5 0 0 1 504.78 281.27ZM514.78 294.08A5 5 0 0 1 517.27 284.4ZM527.17 297.36A5 5 0 0 1 529.8 287.71ZM539.59 300.84A5 5 0 0 1 542.35 291.22ZM551.52 304.35A5 5 0 0 1 554.4 294.77ZM562.65 307.78A5 5 0 0 1 565.66 298.24ZM573.16 311.16A5 5 0 0 1 576.27 301.66ZM583.33 314.56A5 5 0 0 1 586.55 305.1ZM593.24 318.01A5 5 0 0 1 596.57 308.58ZM604.4 316.7m-5 0a5 5 0 1 0 10 0a5 5 0 1 0 -10 0ZM403.69 269.2A5 5 0 0 1 404.99 259.29ZM418.9 271.28A5 5 0 0 1 420.31 261.38ZM433.93 273.51A5 5 0 0 1 435.45 263.62ZM448.62 275.85A5 5 0 0 1 450.25 265.99ZM462.83 278.29A5 5 0 0 1 464.58 268.45ZM476.56 280.81A5 5 0 0 1 478.42 270.99ZM489.72 283.39A5 5 0 0 1 491.7 273.58ZM502.41 286.02A5 5 0 0 1 504.5 276.24ZM514.85 288.75A5 5 0 0 1 517.05 279ZM527.03 291.58A5 5 0 0 1 529.34 281.85ZM538.95 294.5A5 5 0 0 1 541.38 284.8ZM550.7 297.52A5 5 0 0 1 553.24 287.85ZM562.12 300.6A5 5 0 0 1 564.78 290.96ZM573.06 303.69A5 5 0 0 1 575.84 294.08ZM583.68 306.83A5 5 0 0 1 586.57 297.25ZM595.7 305.3m-5 0a5 5 0 1 0 10 0a5 5 0 1 0 -10 0Z" fill="#000"/>
<g font-size="23.6" fill="#262626">
<text x="93" y="398.4" text-anchor="end">-30</text>
<text x="93" y="341.53" text-anchor="end">-20</text>
<text x="93" y="284.67" text-anchor="end">-10</text>
<text x="93" y="227.8" text-anchor="end">0</text>
<text x="93" y="170.93" text-anchor="end">10</text>
<text x="93" y="114.07" text-anchor="end">20</text>
<text x="93" y="57.2" text-anchor="end">30</text>
<text x="78.21" y="467.49" text-anchor="middle">60</text>
<text x="95.8" y="499.29" text-anchor="middle">50</text>
<text x="113.39" y="531.09" text-anchor="middle">40</text>
<text x="160.56" y="552.33" text-anchor="middle">0</text>
<text x="279.16" y="551.03" text-anchor="middle">-10</text>
<text x="397.76" y="549.73" text-anchor="middle">-20</text>
<text x="516.36" y="548.43" text-anchor="middle">-30</text>
<text x="634.96" y="547.13" text-anchor="middle">-40</text>
<text x="753.56" y="545.83" text-anchor="middle">-50</text>
</g>
<text x="393.5" y="43.8" text-anchor="middle" font-size="27.1" fill="#000">FEA: Work Envelope</text>
<text transform="translate(47.9 220.3) rotate(-90)" text-anchor="middle" font-size="27" fill="#262626">Z Points (mm)</text>
<clipPath id="ycl"><rect x="300" y="560" width="260" height="29.7"/></clipPath>
<text x="428.4" y="589.7" text-anchor="middle" font-size="27" fill="#262626" clip-path="url(#ycl)">Y Points (mm)</text>
<text transform="translate(55 512) rotate(60.5)" text-anchor="middle" font-size="27" fill="#262626">X Points (mm)</text>
<rect x="654.3" y="139.7" width="164.7" height="309.1" fill="#fff" stroke="#7a7a7a" stroke-width="1.2"/>
<g font-size="21.5" fill="#000">
<path d="M657.5 155.1H687.6" stroke="#0FEF0F" stroke-width="4.1"/>
<text x="690.6" y="163.5">θ35</text>
<path d="M733.2 155.1H763.5" stroke="#0000E6" stroke-width="4.1"/>
<circle cx="748.4" cy="155.1" r="4.7" fill="#000"/>
<text x="766.8" y="163.5">θ95</text>
<path d="M657.5 182.95H687.6" stroke="#D95319" stroke-width="4.1"/>
<text x="690.6" y="191.35">θ40</text>
<path d="M733.2 182.95H763.5" stroke="#F0189F" stroke-width="4.1"/>
<circle cx="748.4" cy="182.95" r="4.7" fill="#000"/>
<text x="766.8" y="191.35">θ100</text>
<path d="M657.5 210.8H687.6" stroke="#EDB120" stroke-width="4.1"/>
<text x="690.6" y="219.2">θ45</text>
<path d="M733.2 210.8H763.5" stroke="#B550F0" stroke-width="4.1"/>
<circle cx="748.4" cy="210.8" r="4.7" fill="#000"/>
<text x="766.8" y="219.2">θ105</text>
<path d="M657.5 238.65H687.6" stroke="#7E2F8E" stroke-width="4.1"/>
<text x="690.6" y="247.05">θ50</text>
<path d="M733.2 238.65H763.5" stroke="#0072BD" stroke-width="4.1"/>
<circle cx="748.4" cy="238.65" r="4.7" fill="#000"/>
<text x="766.8" y="247.05">θ110</text>
<path d="M657.5 266.5H687.6" stroke="#77AC30" stroke-width="4.1"/>
<text x="690.6" y="274.9">θ55</text>
<path d="M733.2 266.5H763.5" stroke="#A2142F" stroke-width="4.1"/>
<circle cx="748.4" cy="266.5" r="4.7" fill="#000"/>
<text x="766.8" y="274.9">θ115</text>
<path d="M657.5 294.35H687.6" stroke="#4DBEEE" stroke-width="4.1"/>
<text x="690.6" y="302.75">θ60</text>
<path d="M733.2 294.35H763.5" stroke="#4DBEEE" stroke-width="4.1"/>
<circle cx="748.4" cy="294.35" r="4.7" fill="#000"/>
<text x="766.8" y="302.75">θ120</text>
<path d="M657.5 322.2H687.6" stroke="#A2142F" stroke-width="4.1"/>
<text x="690.6" y="330.6">θ65</text>
<path d="M733.2 322.2H763.5" stroke="#77AC30" stroke-width="4.1"/>
<circle cx="748.4" cy="322.2" r="4.7" fill="#000"/>
<text x="766.8" y="330.6">θ125</text>
<path d="M657.5 350.05H687.6" stroke="#0072BD" stroke-width="4.1"/>
<text x="690.6" y="358.45">θ70</text>
<path d="M733.2 350.05H763.5" stroke="#7E2F8E" stroke-width="4.1"/>
<circle cx="748.4" cy="350.05" r="4.7" fill="#000"/>
<text x="766.8" y="358.45">θ130</text>
<path d="M657.5 377.9H687.6" stroke="#B550F0" stroke-width="4.1"/>
<text x="690.6" y="386.3">θ75</text>
<path d="M733.2 377.9H763.5" stroke="#EDB120" stroke-width="4.1"/>
<circle cx="748.4" cy="377.9" r="4.7" fill="#000"/>
<text x="766.8" y="386.3">θ135</text>
<path d="M657.5 405.75H687.6" stroke="#F0189F" stroke-width="4.1"/>
<text x="690.6" y="414.15">θ80</text>
<path d="M733.2 405.75H763.5" stroke="#D95319" stroke-width="4.1"/>
<circle cx="748.4" cy="405.75" r="4.7" fill="#000"/>
<text x="766.8" y="414.15">θ140</text>
<path d="M657.5 433.6H687.6" stroke="#0000E6" stroke-width="4.1"/>
<text x="690.6" y="442">θ85</text>
<path d="M733.2 433.6H763.5" stroke="#0FEF0F" stroke-width="4.1"/>
<circle cx="748.4" cy="433.6" r="4.7" fill="#000"/>
<text x="766.8" y="442">θ145</text>
</g>
</g>
<g id="right-chart">
<path d="M1105.43 51.8V519.6M1198.86 51.8V519.6M1292.29 51.8V519.6M1385.71 51.8V519.6M1479.14 51.8V519.6M1572.57 51.8V519.6M1012 110.27H1666M1012 168.75H1666M1012 227.23H1666M1012 285.7H1666M1012 344.18H1666M1012 402.65H1666M1012 461.12H1666" stroke="#d6d6d6" stroke-width="1.05" fill="none"/>
<g fill="none" stroke-width="4.3" stroke-linejoin="round">
<polyline points="1012,285.7 1016.67,285.7 1021.34,285.7 1026.01,285.7 1030.69,285.7 1035.36,285.7 1040.03,285.7 1044.7,285.7 1049.37,285.7 1054.04,285.6 1058.71,285.33 1063.39,284.94 1068.06,284.47 1072.73,283.74 1077.4,282.63 1082.07,281.3 1086.74,279.93 1091.41,278.47 1096.09,276.83 1100.76,275.11 1105.43,273.42 1110.1,271.78 1114.77,270.14 1119.44,268.51 1124.11,266.87 1128.79,265.23 1133.46,263.57 1138.13,261.88 1142.8,260.18 1147.47,258.44 1152.14,256.66 1156.81,254.85 1161.49,253.01 1166.16,251.14 1170.83,249.24 1175.5,247.32 1180.17,245.36 1184.84,243.38 1189.51,241.38 1194.19,239.34 1198.86,237.28 1203.53,235.18 1208.2,233.04 1212.87,230.86 1217.54,228.64 1222.21,226.4 1226.89,224.13 1231.56,221.85 1236.23,219.55 1240.9,217.24 1245.57,214.94 1250.24,212.61 1254.91,210.26 1259.59,207.88 1264.26,205.49 1268.93,203.08 1273.6,200.67 1278.27,198.26 1282.94,195.85 1287.61,193.45 1292.29,191.07 1296.96,188.69 1301.63,186.31 1306.3,183.92 1310.97,181.53 1315.64,179.15 1320.31,176.78 1324.99,174.43 1329.66,172.1 1334.33,169.8 1339,167.53 1343.67,165.28 1348.34,163.05 1353.01,160.83 1357.69,158.62 1362.36,156.44 1367.03,154.28 1371.7,152.16 1376.37,150.07 1381.04,148.01 1385.71,146.01 1390.39,144.03 1395.06,142.07 1399.73,140.13 1404.4,138.21 1409.07,136.33 1413.74,134.49 1418.41,132.69 1423.09,130.93 1427.76,129.23 1432.43,127.58 1437.1,125.97 1441.77,124.38 1446.44,122.81 1451.11,121.28 1455.79,119.79 1460.46,118.34 1465.13,116.95 1469.8,115.62 1474.47,114.37 1479.14,113.19 1483.81,112.05 1488.49,110.92 1493.16,109.81 1497.83,108.74 1502.5,107.71 1507.17,106.75 1511.84,105.86 1516.51,105.05 1521.19,104.35 1525.86,103.75 1530.53,103.21 1535.2,102.69 1539.87,102.2 1544.54,101.73 1549.21,101.3 1553.89,100.92 1558.56,100.59 1563.23,100.31 1567.9,100.11 1572.57,99.97" stroke="#0FEF0F"/>
<polyline points="1012,285.7 1016.67,285.7 1021.34,285.7 1026.01,285.7 1030.69,285.7 1035.36,285.7 1040.03,285.7 1044.7,285.7 1049.37,285.7 1054.04,285.62 1058.71,285.4 1063.39,285.08 1068.06,284.71 1072.73,284.11 1077.4,283.21 1082.07,282.14 1086.74,281.03 1091.41,279.84 1096.09,278.5 1100.76,277.11 1105.43,275.76 1110.1,274.48 1114.77,273.24 1119.44,272.02 1124.11,270.81 1128.79,269.59 1133.46,268.36 1138.13,267.11 1142.8,265.82 1147.47,264.48 1152.14,263.09 1156.81,261.63 1161.49,260.12 1166.16,258.57 1170.83,256.97 1175.5,255.34 1180.17,253.66 1184.84,251.96 1189.51,250.23 1194.19,248.48 1198.86,246.7 1203.53,244.9 1208.2,243.05 1212.87,241.16 1217.54,239.23 1222.21,237.28 1226.89,235.3 1231.56,233.29 1236.23,231.26 1240.9,229.22 1245.57,227.17 1250.24,225.1 1254.91,223 1259.59,220.87 1264.26,218.71 1268.93,216.54 1273.6,214.34 1278.27,212.14 1282.94,209.93 1287.61,207.71 1292.29,205.5 1296.96,203.27 1301.63,201.03 1306.3,198.77 1310.97,196.5 1315.64,194.22 1320.31,191.94 1324.99,189.66 1329.66,187.38 1334.33,185.11 1339,182.84 1343.67,180.58 1348.34,178.32 1353.01,176.05 1357.69,173.78 1362.36,171.51 1367.03,169.26 1371.7,167.01 1376.37,164.77 1381.04,162.55 1385.71,160.35 1390.39,158.16 1395.06,155.98 1399.73,153.8 1404.4,151.63 1409.07,149.48 1413.74,147.34 1418.41,145.22 1423.09,143.13 1427.76,141.06 1432.43,139.02 1437.1,137.01 1441.77,135 1446.44,133.01 1451.11,131.03 1455.79,129.08 1460.46,127.16 1465.13,125.27 1469.8,123.41 1474.47,121.59 1479.14,119.81 1483.81,118.07 1488.49,116.34 1493.16,114.63 1497.83,112.95 1502.5,111.3 1507.17,109.69 1511.84,108.12 1516.51,106.59 1521.19,105.11 1525.86,103.69 1530.53,102.31 1535.2,100.97 1539.87,99.65 1544.54,98.37 1549.21,97.12 1553.89,95.9 1558.56,94.73 1563.23,93.59 1567.9,92.5 1572.57,91.44" stroke="#D95319"/>
<polyline points="1012,285.7 1016.67,285.7 1021.34,285.7 1026.01,285.7 1030.69,285.7 1035.36,285.7 1040.03,285.7 1044.7,285.7 1049.37,285.7 1054.04,285.63 1058.71,285.44 1063.39,285.17 1068.06,284.85 1072.73,284.35 1077.4,283.58 1082.07,282.66 1086.74,281.71 1091.41,280.71 1096.09,279.58 1100.76,278.39 1105.43,277.22 1110.1,276.09 1114.77,274.96 1119.44,273.83 1124.11,272.7 1128.79,271.56 1133.46,270.41 1138.13,269.25 1142.8,268.07 1147.47,266.87 1152.14,265.64 1156.81,264.39 1161.49,263.12 1166.16,261.83 1170.83,260.52 1175.5,259.19 1180.17,257.84 1184.84,256.47 1189.51,255.08 1194.19,253.67 1198.86,252.24 1203.53,250.79 1208.2,249.3 1212.87,247.79 1217.54,246.25 1222.21,244.69 1226.89,243.11 1231.56,241.51 1236.23,239.91 1240.9,238.3 1245.57,236.68 1250.24,235.05 1254.91,233.4 1259.59,231.72 1264.26,230.04 1268.93,228.34 1273.6,226.64 1278.27,224.93 1282.94,223.22 1287.61,221.52 1292.29,219.83 1296.96,218.13 1301.63,216.43 1306.3,214.73 1310.97,213.02 1315.64,211.31 1320.31,209.61 1324.99,207.91 1329.66,206.22 1334.33,204.55 1339,202.89 1343.67,201.24 1348.34,199.6 1353.01,197.97 1357.69,196.35 1362.36,194.74 1367.03,193.13 1371.7,191.53 1376.37,189.92 1381.04,188.32 1385.71,186.72 1390.39,185.12 1395.06,183.53 1399.73,181.94 1404.4,180.36 1409.07,178.77 1413.74,177.19 1418.41,175.61 1423.09,174.02 1427.76,172.43 1432.43,170.84 1437.1,169.24 1441.77,167.62 1446.44,166.01 1451.11,164.39 1455.79,162.77 1460.46,161.15 1465.13,159.54 1469.8,157.93 1474.47,156.34 1479.14,154.76 1483.81,153.19 1488.49,151.62 1493.16,150.05 1497.83,148.48 1502.5,146.93 1507.17,145.39 1511.84,143.86 1516.51,142.36 1521.19,140.89 1525.86,139.45 1530.53,138.03 1535.2,136.63 1539.87,135.24 1544.54,133.88 1549.21,132.53 1553.89,131.2 1558.56,129.89 1563.23,128.61 1567.9,127.34 1572.57,126.09" stroke="#EDB120"/>
<polyline points="1012,285.7 1016.67,285.7 1021.34,285.7 1026.01,285.7 1030.69,285.7 1035.36,285.7 1040.03,285.7 1044.7,285.7 1049.37,285.7 1054.04,285.65 1058.71,285.5 1063.39,285.3 1068.06,285.06 1072.73,284.67 1077.4,284.09 1082.07,283.4 1086.74,282.68 1091.41,281.9 1096.09,281.03 1100.76,280.13 1105.43,279.27 1110.1,278.46 1114.77,277.69 1119.44,276.93 1124.11,276.18 1128.79,275.43 1133.46,274.68 1138.13,273.92 1142.8,273.13 1147.47,272.31 1152.14,271.45 1156.81,270.56 1161.49,269.63 1166.16,268.69 1170.83,267.71 1175.5,266.71 1180.17,265.69 1184.84,264.64 1189.51,263.57 1194.19,262.48 1198.86,261.37 1203.53,260.23 1208.2,259.05 1212.87,257.84 1217.54,256.59 1222.21,255.32 1226.89,254.03 1231.56,252.73 1236.23,251.41 1240.9,250.09 1245.57,248.76 1250.24,247.43 1254.91,246.07 1259.59,244.69 1264.26,243.3 1268.93,241.89 1273.6,240.48 1278.27,239.07 1282.94,237.66 1287.61,236.25 1292.29,234.85 1296.96,233.46 1301.63,232.07 1306.3,230.68 1310.97,229.28 1315.64,227.89 1320.31,226.5 1324.99,225.1 1329.66,223.7 1334.33,222.3 1339,220.89 1343.67,219.49 1348.34,218.08 1353.01,216.67 1357.69,215.26 1362.36,213.85 1367.03,212.43 1371.7,211 1376.37,209.56 1381.04,208.11 1385.71,206.65 1390.39,205.17 1395.06,203.67 1399.73,202.17 1404.4,200.65 1409.07,199.12 1413.74,197.59 1418.41,196.05 1423.09,194.5 1427.76,192.96 1432.43,191.42 1437.1,189.87 1441.77,188.3 1446.44,186.73 1451.11,185.16 1455.79,183.58 1460.46,182.01 1465.13,180.43 1469.8,178.87 1474.47,177.32 1479.14,175.78 1483.81,174.25 1488.49,172.72 1493.16,171.19 1497.83,169.67 1502.5,168.16 1507.17,166.66 1511.84,165.17 1516.51,163.69 1521.19,162.23 1525.86,160.78 1530.53,159.35 1535.2,157.93 1539.87,156.53 1544.54,155.13 1549.21,153.75 1553.89,152.38 1558.56,151.02 1563.23,149.67 1567.9,148.33 1572.57,147.01" stroke="#7E2F8E"/>
<polyline points="1012,285.7 1016.67,285.7 1021.34,285.7 1026.01,285.7 1030.69,285.7 1035.36,285.7 1040.03,285.7 1044.7,285.7 1049.37,285.7 1054.04,285.66 1058.71,285.55 1063.39,285.39 1068.06,285.2 1072.73,284.91 1077.4,284.46 1082.07,283.92 1086.74,283.36 1091.41,282.77 1096.09,282.11 1100.76,281.41 1105.43,280.73 1110.1,280.07 1114.77,279.41 1119.44,278.76 1124.11,278.11 1128.79,277.45 1133.46,276.79 1138.13,276.12 1142.8,275.45 1147.47,274.76 1152.14,274.05 1156.81,273.34 1161.49,272.63 1166.16,271.91 1170.83,271.18 1175.5,270.44 1180.17,269.69 1184.84,268.91 1189.51,268.12 1194.19,267.3 1198.86,266.44 1203.53,265.55 1208.2,264.62 1212.87,263.66 1217.54,262.66 1222.21,261.64 1226.89,260.6 1231.56,259.55 1236.23,258.49 1240.9,257.42 1245.57,256.36 1250.24,255.28 1254.91,254.18 1259.59,253.07 1264.26,251.93 1268.93,250.8 1273.6,249.65 1278.27,248.51 1282.94,247.37 1287.61,246.25 1292.29,245.13 1296.96,244.04 1301.63,242.95 1306.3,241.86 1310.97,240.78 1315.64,239.7 1320.31,238.63 1324.99,237.55 1329.66,236.47 1334.33,235.39 1339,234.3 1343.67,233.22 1348.34,232.14 1353.01,231.07 1357.69,230 1362.36,228.92 1367.03,227.84 1371.7,226.74 1376.37,225.62 1381.04,224.49 1385.71,223.32 1390.39,222.14 1395.06,220.92 1399.73,219.69 1404.4,218.44 1409.07,217.17 1413.74,215.89 1418.41,214.6 1423.09,213.29 1427.76,211.97 1432.43,210.64 1437.1,209.3 1441.77,207.93 1446.44,206.55 1451.11,205.15 1455.79,203.74 1460.46,202.32 1465.13,200.9 1469.8,199.47 1474.47,198.05 1479.14,196.63 1483.81,195.21 1488.49,193.79 1493.16,192.36 1497.83,190.92 1502.5,189.49 1507.17,188.05 1511.84,186.62 1516.51,185.18 1521.19,183.76 1525.86,182.34 1530.53,180.92 1535.2,179.5 1539.87,178.09 1544.54,176.68 1549.21,175.28 1553.89,173.87 1558.56,172.47 1563.23,171.07 1567.9,169.67 1572.57,168.28" stroke="#77AC30"/>
<polyline points="1012,285.7 1016.67,285.7 1021.34,285.7 1026.01,285.7 1030.69,285.7 1035.36,285.7 1040.03,285.7 1044.7,285.7 1049.37,285.7 1054.04,285.67 1058.71,285.59 1063.39,285.48 1068.06,285.35 1072.73,285.14 1077.4,284.82 1082.07,284.44 1086.74,284.05 1091.41,283.64 1096.09,283.17 1100.76,282.68 1105.43,282.19 1110.1,281.71 1114.77,281.22 1119.44,280.72 1124.11,280.22 1128.79,279.71 1133.46,279.2 1138.13,278.69 1142.8,278.18 1147.47,277.66 1152.14,277.14 1156.81,276.63 1161.49,276.12 1166.16,275.62 1170.83,275.11 1175.5,274.6 1180.17,274.08 1184.84,273.55 1189.51,272.99 1194.19,272.41 1198.86,271.8 1203.53,271.15 1208.2,270.47 1212.87,269.75 1217.54,269.01 1222.21,268.24 1226.89,267.45 1231.56,266.66 1236.23,265.85 1240.9,265.05 1245.57,264.24 1250.24,263.43 1254.91,262.6 1259.59,261.75 1264.26,260.89 1268.93,260.03 1273.6,259.16 1278.27,258.29 1282.94,257.43 1287.61,256.58 1292.29,255.75 1296.96,254.93 1301.63,254.12 1306.3,253.33 1310.97,252.53 1315.64,251.74 1320.31,250.95 1324.99,250.16 1329.66,249.36 1334.33,248.56 1339,247.74 1343.67,246.92 1348.34,246.1 1353.01,245.29 1357.69,244.47 1362.36,243.64 1367.03,242.8 1371.7,241.95 1376.37,241.07 1381.04,240.18 1385.71,239.25 1390.39,238.3 1395.06,237.31 1399.73,236.29 1404.4,235.25 1409.07,234.19 1413.74,233.12 1418.41,232.04 1423.09,230.95 1427.76,229.86 1432.43,228.77 1437.1,227.68 1441.77,226.58 1446.44,225.47 1451.11,224.36 1455.79,223.24 1460.46,222.11 1465.13,220.98 1469.8,219.84 1474.47,218.71 1479.14,217.57 1483.81,216.44 1488.49,215.32 1493.16,214.2 1497.83,213.08 1502.5,211.95 1507.17,210.81 1511.84,209.66 1516.51,208.49 1521.19,207.3 1525.86,206.08 1530.53,204.83 1535.2,203.57 1539.87,202.28 1544.54,200.97 1549.21,199.65 1553.89,198.31 1558.56,196.94 1563.23,195.56 1567.9,194.16 1572.57,192.75" stroke="#4DBEEE"/>
<polyline points="1012,285.7 1016.67,285.7 1021.34,285.7 1026.01,285.7 1030.69,285.7 1035.36,285.7 1040.03,285.7 1044.7,285.7 1049.37,285.7 1054.04,285.68 1058.71,285.62 1063.39,285.54 1068.06,285.44 1072.73,285.28 1077.4,285.04 1082.07,284.76 1086.74,284.46 1091.41,284.15 1096.09,283.8 1100.76,283.43 1105.43,283.07 1110.1,282.72 1114.77,282.37 1119.44,282.03 1124.11,281.68 1128.79,281.34 1133.46,280.99 1138.13,280.64 1142.8,280.28 1147.47,279.92 1152.14,279.54 1156.81,279.16 1161.49,278.78 1166.16,278.39 1170.83,277.99 1175.5,277.59 1180.17,277.19 1184.84,276.77 1189.51,276.36 1194.19,275.93 1198.86,275.51 1203.53,275.07 1208.2,274.64 1212.87,274.19 1217.54,273.74 1222.21,273.28 1226.89,272.82 1231.56,272.35 1236.23,271.88 1240.9,271.4 1245.57,270.91 1250.24,270.41 1254.91,269.91 1259.59,269.4 1264.26,268.89 1268.93,268.36 1273.6,267.83 1278.27,267.3 1282.94,266.75 1287.61,266.2 1292.29,265.64 1296.96,265.07 1301.63,264.49 1306.3,263.91 1310.97,263.32 1315.64,262.72 1320.31,262.11 1324.99,261.49 1329.66,260.86 1334.33,260.23 1339,259.59 1343.67,258.94 1348.34,258.27 1353.01,257.6 1357.69,256.92 1362.36,256.23 1367.03,255.53 1371.7,254.83 1376.37,254.11 1381.04,253.38 1385.71,252.64 1390.39,251.9 1395.06,251.14 1399.73,250.37 1404.4,249.59 1409.07,248.8 1413.74,248 1418.41,247.19 1423.09,246.37 1427.76,245.54 1432.43,244.7 1437.1,243.85 1441.77,242.98 1446.44,242.1 1451.11,241.22 1455.79,240.32 1460.46,239.4 1465.13,238.48 1469.8,237.55 1474.47,236.6 1479.14,235.64 1483.81,234.67 1488.49,233.69 1493.16,232.69 1497.83,231.68 1502.5,230.66 1507.17,229.63 1511.84,228.58 1516.51,227.52 1521.19,226.45 1525.86,225.36 1530.53,224.26 1535.2,223.15 1539.87,222.03 1544.54,220.89 1549.21,219.73 1553.89,218.57 1558.56,217.38 1563.23,216.19 1567.9,214.98 1572.57,213.76" stroke="#A2142F"/>
<polyline points="1012,285.7 1016.67,285.7 1021.34,285.7 1026.01,285.7 1030.69,285.7 1035.36,285.7 1040.03,285.7 1044.7,285.7 1049.37,285.7 1054.04,285.69 1058.71,285.65 1063.39,285.59 1068.06,285.52 1072.73,285.42 1077.4,285.26 1082.07,285.07 1086.74,284.88 1091.41,284.67 1096.09,284.43 1100.76,284.18 1105.43,283.95 1110.1,283.72 1114.77,283.49 1119.44,283.27 1124.11,283.05 1128.79,282.82 1133.46,282.6 1138.13,282.37 1142.8,282.15 1147.47,281.91 1152.14,281.67 1156.81,281.43 1161.49,281.18 1166.16,280.93 1170.83,280.68 1175.5,280.42 1180.17,280.16 1184.84,279.89 1189.51,279.63 1194.19,279.35 1198.86,279.08 1203.53,278.8 1208.2,278.52 1212.87,278.24 1217.54,277.95 1222.21,277.66 1226.89,277.36 1231.56,277.06 1236.23,276.75 1240.9,276.45 1245.57,276.13 1250.24,275.81 1254.91,275.49 1259.59,275.16 1264.26,274.82 1268.93,274.48 1273.6,274.14 1278.27,273.79 1282.94,273.43 1287.61,273.07 1292.29,272.7 1296.96,272.32 1301.63,271.94 1306.3,271.56 1310.97,271.16 1315.64,270.76 1320.31,270.36 1324.99,269.94 1329.66,269.52 1334.33,269.1 1339,268.66 1343.67,268.22 1348.34,267.77 1353.01,267.32 1357.69,266.85 1362.36,266.38 1367.03,265.9 1371.7,265.41 1376.37,264.92 1381.04,264.41 1385.71,263.9 1390.39,263.38 1395.06,262.85 1399.73,262.31 1404.4,261.76 1409.07,261.21 1413.74,260.64 1418.41,260.07 1423.09,259.48 1427.76,258.89 1432.43,258.29 1437.1,257.67 1441.77,257.05 1446.44,256.42 1451.11,255.78 1455.79,255.12 1460.46,254.46 1465.13,253.78 1469.8,253.1 1474.47,252.4 1479.14,251.7 1483.81,250.98 1488.49,250.26 1493.16,249.52 1497.83,248.77 1502.5,248 1507.17,247.23 1511.84,246.44 1516.51,245.64 1521.19,244.84 1525.86,244.02 1530.53,243.19 1535.2,242.34 1539.87,241.48 1544.54,240.61 1549.21,239.72 1553.89,238.83 1558.56,237.92 1563.23,237 1567.9,236.06 1572.57,235.12" stroke="#0072BD"/>
<polyline points="1012,285.7 1016.67,285.7 1021.34,285.7 1026.01,285.7 1030.69,285.7 1035.36,285.7 1040.03,285.7 1044.7,285.7 1049.37,285.7 1054.04,285.69 1058.71,285.66 1063.39,285.63 1068.06,285.58 1072.73,285.51 1077.4,285.41 1082.07,285.28 1086.74,285.15 1091.41,285.01 1096.09,284.85 1100.76,284.69 1105.43,284.53 1110.1,284.38 1114.77,284.22 1119.44,284.07 1124.11,283.92 1128.79,283.77 1133.46,283.61 1138.13,283.46 1142.8,283.3 1147.47,283.14 1152.14,282.98 1156.81,282.81 1161.49,282.65 1166.16,282.48 1170.83,282.31 1175.5,282.14 1180.17,281.96 1184.84,281.79 1189.51,281.61 1194.19,281.43 1198.86,281.25 1203.53,281.07 1208.2,280.89 1212.87,280.7 1217.54,280.51 1222.21,280.32 1226.89,280.13 1231.56,279.94 1236.23,279.74 1240.9,279.54 1245.57,279.33 1250.24,279.13 1254.91,278.92 1259.59,278.7 1264.26,278.49 1268.93,278.27 1273.6,278.04 1278.27,277.82 1282.94,277.59 1287.61,277.35 1292.29,277.11 1296.96,276.87 1301.63,276.62 1306.3,276.37 1310.97,276.12 1315.64,275.86 1320.31,275.59 1324.99,275.32 1329.66,275.05 1334.33,274.77 1339,274.49 1343.67,274.2 1348.34,273.9 1353.01,273.6 1357.69,273.3 1362.36,272.99 1367.03,272.67 1371.7,272.35 1376.37,272.02 1381.04,271.68 1385.71,271.34 1390.39,271 1395.06,270.64 1399.73,270.28 1404.4,269.92 1409.07,269.54 1413.74,269.16 1418.41,268.78 1423.09,268.38 1427.76,267.98 1432.43,267.58 1437.1,267.16 1441.77,266.74 1446.44,266.31 1451.11,265.87 1455.79,265.42 1460.46,264.97 1465.13,264.51 1469.8,264.04 1474.47,263.56 1479.14,263.08 1483.81,262.58 1488.49,262.08 1493.16,261.57 1497.83,261.05 1502.5,260.52 1507.17,259.98 1511.84,259.44 1516.51,258.88 1521.19,258.31 1525.86,257.74 1530.53,257.15 1535.2,256.56 1539.87,255.95 1544.54,255.33 1549.21,254.7 1553.89,254.06 1558.56,253.41 1563.23,252.75 1567.9,252.08 1572.57,251.4" stroke="#FF00FF"/>
<polyline points="1012,285.7 1016.67,285.7 1021.34,285.7 1026.01,285.7 1030.69,285.7 1035.36,285.7 1040.03,285.7 1044.7,285.7 1049.37,285.7 1054.04,285.69 1058.71,285.68 1063.39,285.65 1068.06,285.63 1072.73,285.58 1077.4,285.52 1082.07,285.44 1086.74,285.36 1091.41,285.27 1096.09,285.17 1100.76,285.07 1105.43,284.97 1110.1,284.87 1114.77,284.76 1119.44,284.65 1124.11,284.54 1128.79,284.43 1133.46,284.32 1138.13,284.2 1142.8,284.09 1147.47,283.97 1152.14,283.86 1156.81,283.74 1161.49,283.62 1166.16,283.51 1170.83,283.39 1175.5,283.27 1180.17,283.14 1184.84,283.02 1189.51,282.9 1194.19,282.77 1198.86,282.65 1203.53,282.52 1208.2,282.39 1212.87,282.26 1217.54,282.13 1222.21,282 1226.89,281.87 1231.56,281.74 1236.23,281.6 1240.9,281.47 1245.57,281.33 1250.24,281.19 1254.91,281.05 1259.59,280.9 1264.26,280.76 1268.93,280.61 1273.6,280.46 1278.27,280.31 1282.94,280.16 1287.61,280.01 1292.29,279.85 1296.96,279.69 1301.63,279.53 1306.3,279.37 1310.97,279.2 1315.64,279.04 1320.31,278.87 1324.99,278.7 1329.66,278.52 1334.33,278.34 1339,278.16 1343.67,277.98 1348.34,277.8 1353.01,277.61 1357.69,277.42 1362.36,277.23 1367.03,277.03 1371.7,276.83 1376.37,276.63 1381.04,276.42 1385.71,276.21 1390.39,276 1395.06,275.79 1399.73,275.57 1404.4,275.35 1409.07,275.12 1413.74,274.9 1418.41,274.66 1423.09,274.43 1427.76,274.19 1432.43,273.95 1437.1,273.7 1441.77,273.45 1446.44,273.2 1451.11,272.94 1455.79,272.68 1460.46,272.42 1465.13,272.15 1469.8,271.87 1474.47,271.6 1479.14,271.31 1483.81,271.03 1488.49,270.74 1493.16,270.45 1497.83,270.15 1502.5,269.85 1507.17,269.54 1511.84,269.23 1516.51,268.91 1521.19,268.59 1525.86,268.26 1530.53,267.92 1535.2,267.58 1539.87,267.23 1544.54,266.87 1549.21,266.51 1553.89,266.14 1558.56,265.76 1563.23,265.38 1567.9,264.99 1572.57,264.6" stroke="#F0189F"/>
<polyline points="1012,285.7 1016.67,285.7 1021.34,285.7 1026.01,285.7 1030.69,285.7 1035.36,285.7 1040.03,285.7 1044.7,285.7 1049.37,285.7 1054.04,285.7 1058.71,285.69 1063.39,285.68 1068.06,285.67 1072.73,285.65 1077.4,285.63 1082.07,285.6 1086.74,285.56 1091.41,285.53 1096.09,285.49 1100.76,285.45 1105.43,285.41 1110.1,285.36 1114.77,285.3 1119.44,285.24 1124.11,285.17 1128.79,285.1 1133.46,285.02 1138.13,284.95 1142.8,284.88 1147.47,284.8 1152.14,284.74 1156.81,284.67 1161.49,284.6 1166.16,284.54 1170.83,284.47 1175.5,284.4 1180.17,284.34 1184.84,284.27 1189.51,284.2 1194.19,284.13 1198.86,284.06 1203.53,284 1208.2,283.93 1212.87,283.86 1217.54,283.79 1222.21,283.72 1226.89,283.65 1231.56,283.58 1236.23,283.51 1240.9,283.43 1245.57,283.36 1250.24,283.29 1254.91,283.21 1259.59,283.14 1264.26,283.06 1268.93,282.99 1273.6,282.91 1278.27,282.84 1282.94,282.76 1287.61,282.68 1292.29,282.6 1296.96,282.52 1301.63,282.44 1306.3,282.36 1310.97,282.28 1315.64,282.19 1320.31,282.11 1324.99,282.02 1329.66,281.94 1334.33,281.85 1339,281.76 1343.67,281.67 1348.34,281.58 1353.01,281.49 1357.69,281.4 1362.36,281.31 1367.03,281.21 1371.7,281.12 1376.37,281.02 1381.04,280.92 1385.71,280.82 1390.39,280.72 1395.06,280.62 1399.73,280.52 1404.4,280.41 1409.07,280.31 1413.74,280.2 1418.41,280.09 1423.09,279.98 1427.76,279.87 1432.43,279.76 1437.1,279.64 1441.77,279.53 1446.44,279.41 1451.11,279.29 1455.79,279.17 1460.46,279.05 1465.13,278.92 1469.8,278.8 1474.47,278.67 1479.14,278.54 1483.81,278.41 1488.49,278.28 1493.16,278.15 1497.83,278.01 1502.5,277.87 1507.17,277.74 1511.84,277.59 1516.51,277.45 1521.19,277.3 1525.86,277.16 1530.53,277 1535.2,276.85 1539.87,276.69 1544.54,276.53 1549.21,276.37 1553.89,276.21 1558.56,276.04 1563.23,275.87 1567.9,275.7 1572.57,275.52" stroke="#0000E6"/>
</g>
<polyline points="1012,285.7 1030.69,285.7 1049.37,285.7 1068.06,287.16 1086.74,291.84 1105.43,298.39 1124.11,306.42 1142.8,315.13 1161.49,324.26 1180.17,333.72 1198.86,343.45 1217.54,353.35 1236.23,363.34 1254.91,373.35 1273.6,383.3 1292.29,393.09 1310.97,402.66 1329.66,411.92 1348.34,420.75 1367.03,429.18 1385.71,437.03 1404.4,444.28 1423.09,450.89 1441.77,456.83 1460.46,462.04 1479.14,466.48 1497.83,470.12 1516.51,472.91 1535.2,474.8 1553.89,475.77 1572.57,476.48" stroke="#0FEF0F" stroke-width="4.3" fill="none" stroke-linejoin="round"/>
<path d="M1012 285.7h0M1030.69 285.7h0M1049.37 285.7h0M1068.06 287.16h0M1086.74 291.84h0M1105.43 298.39h0M1124.11 306.42h0M1142.8 315.13h0M1161.49 324.26h0M1180.17 333.72h0M1198.86 343.45h0M1217.54 353.35h0M1236.23 363.34h0M1254.91 373.35h0M1273.6 383.3h0M1292.29 393.09h0M1310.97 402.66h0M1329.66 411.92h0M1348.34 420.75h0M1367.03 429.18h0M1385.71 437.03h0M1404.4 444.28h0M1423.09 450.89h0M1441.77 456.83h0M1460.46 462.04h0M1479.14 466.48h0M1497.83 470.12h0M1516.51 472.91h0M1535.2 474.8h0M1553.89 475.77h0M1572.57 476.48h0" stroke="#000" stroke-width="9.8" stroke-linecap="round" fill="none"/>
<polyline points="1012,285.7 1030.69,285.7 1049.37,285.7 1068.06,286.58 1086.74,289.82 1105.43,294.47 1124.11,300.1 1142.8,306.38 1161.49,313.13 1180.17,320.17 1198.86,327.33 1217.54,334.93 1236.23,342.77 1254.91,350.81 1273.6,359.01 1292.29,367.3 1310.97,375.65 1329.66,384.02 1348.34,392.35 1367.03,400.62 1385.71,408.75 1404.4,416.72 1423.09,424.46 1441.77,431.95 1460.46,439.12 1479.14,445.94 1497.83,452.36 1516.51,458.33 1535.2,463.81 1553.89,468.75 1572.57,473.4" stroke="#D95319" stroke-width="4.3" fill="none" stroke-linejoin="round"/>
<path d="M1012 285.7h0M1030.69 285.7h0M1049.37 285.7h0M1068.06 286.58h0M1086.74 289.82h0M1105.43 294.47h0M1124.11 300.1h0M1142.8 306.38h0M1161.49 313.13h0M1180.17 320.17h0M1198.86 327.33h0M1217.54 334.93h0M1236.23 342.77h0M1254.91 350.81h0M1273.6 359.01h0M1292.29 367.3h0M1310.97 375.65h0M1329.66 384.02h0M1348.34 392.35h0M1367.03 400.62h0M1385.71 408.75h0M1404.4 416.72h0M1423.09 424.46h0M1441.77 431.95h0M1460.46 439.12h0M1479.14 445.94h0M1497.83 452.36h0M1516.51 458.33h0M1535.2 463.81h0M1553.89 468.75h0M1572.57 473.4h0" stroke="#000" stroke-width="9.8" stroke-linecap="round" fill="none"/>
<polyline points="1012,285.7 1030.69,285.7 1049.37,285.7 1068.06,286.46 1086.74,289.27 1105.43,293.3 1124.11,297.69 1142.8,302.28 1161.49,307.06 1180.17,312.04 1198.86,317.21 1217.54,322.78 1236.23,328.64 1254.91,334.65 1273.6,340.83 1292.29,347.14 1310.97,353.59 1329.66,360.13 1348.34,366.75 1367.03,373.43 1385.71,380.13 1404.4,386.85 1423.09,393.56 1441.77,400.22 1460.46,406.84 1479.14,413.37 1497.83,419.8 1516.51,426.11 1535.2,432.26 1553.89,438.26 1572.57,444.11" stroke="#EDB120" stroke-width="4.3" fill="none" stroke-linejoin="round"/>
<path d="M1012 285.7h0M1030.69 285.7h0M1049.37 285.7h0M1068.06 286.46h0M1086.74 289.27h0M1105.43 293.3h0M1124.11 297.69h0M1142.8 302.28h0M1161.49 307.06h0M1180.17 312.04h0M1198.86 317.21h0M1217.54 322.78h0M1236.23 328.64h0M1254.91 334.65h0M1273.6 340.83h0M1292.29 347.14h0M1310.97 353.59h0M1329.66 360.13h0M1348.34 366.75h0M1367.03 373.43h0M1385.71 380.13h0M1404.4 386.85h0M1423.09 393.56h0M1441.77 400.22h0M1460.46 406.84h0M1479.14 413.37h0M1497.83 419.8h0M1516.51 426.11h0M1535.2 432.26h0M1553.89 438.26h0M1572.57 444.11h0" stroke="#000" stroke-width="9.8" stroke-linecap="round" fill="none"/>
<polyline points="1012,285.7 1030.69,285.7 1049.37,285.7 1068.06,286.28 1086.74,288.45 1105.43,291.55 1124.11,294.83 1142.8,298.19 1161.49,301.69 1180.17,305.39 1198.86,309.34 1217.54,313.64 1236.23,318.29 1254.91,323.21 1273.6,328.3 1292.29,333.46 1310.97,338.82 1329.66,344.4 1348.34,350.09 1367.03,355.9 1385.71,361.81 1404.4,367.84 1423.09,373.92 1441.77,380.07 1460.46,386.28 1479.14,392.51 1497.83,398.76 1516.51,405.03 1535.2,411.29 1553.89,417.55 1572.57,423.81" stroke="#7E2F8E" stroke-width="4.3" fill="none" stroke-linejoin="round"/>
<path d="M1012 285.7h0M1030.69 285.7h0M1049.37 285.7h0M1068.06 286.28h0M1086.74 288.45h0M1105.43 291.55h0M1124.11 294.83h0M1142.8 298.19h0M1161.49 301.69h0M1180.17 305.39h0M1198.86 309.34h0M1217.54 313.64h0M1236.23 318.29h0M1254.91 323.21h0M1273.6 328.3h0M1292.29 333.46h0M1310.97 338.82h0M1329.66 344.4h0M1348.34 350.09h0M1367.03 355.9h0M1385.71 361.81h0M1404.4 367.84h0M1423.09 373.92h0M1441.77 380.07h0M1460.46 386.28h0M1479.14 392.51h0M1497.83 398.76h0M1516.51 405.03h0M1535.2 411.29h0M1553.89 417.55h0M1572.57 423.81h0" stroke="#000" stroke-width="9.8" stroke-linecap="round" fill="none"/>
<polyline points="1012,285.7 1030.69,285.7 1049.37,285.7 1068.06,286.14 1086.74,287.76 1105.43,290.09 1124.11,292.51 1142.8,294.96 1161.49,297.5 1180.17,300.19 1198.86,303.08 1217.54,306.26 1236.23,309.71 1254.91,313.38 1273.6,317.21 1292.29,321.14 1310.97,325.29 1329.66,329.68 1348.34,334.23 1367.03,338.94 1385.71,343.84 1404.4,348.92 1423.09,354.14 1441.77,359.53 1460.46,365.09 1479.14,370.8 1497.83,376.68 1516.51,382.72 1535.2,388.86 1553.89,395.12 1572.57,401.5" stroke="#77AC30" stroke-width="4.3" fill="none" stroke-linejoin="round"/>
<path d="M1012 285.7h0M1030.69 285.7h0M1049.37 285.7h0M1068.06 286.14h0M1086.74 287.76h0M1105.43 290.09h0M1124.11 292.51h0M1142.8 294.96h0M1161.49 297.5h0M1180.17 300.19h0M1198.86 303.08h0M1217.54 306.26h0M1236.23 309.71h0M1254.91 313.38h0M1273.6 317.21h0M1292.29 321.14h0M1310.97 325.29h0M1329.66 329.68h0M1348.34 334.23h0M1367.03 338.94h0M1385.71 343.84h0M1404.4 348.92h0M1423.09 354.14h0M1441.77 359.53h0M1460.46 365.09h0M1479.14 370.8h0M1497.83 376.68h0M1516.51 382.72h0M1535.2 388.86h0M1553.89 395.12h0M1572.57 401.5h0" stroke="#000" stroke-width="9.8" stroke-linecap="round" fill="none"/>
<polyline points="1012,285.7 1030.69,285.7 1049.37,285.7 1068.06,286.02 1086.74,287.21 1105.43,288.92 1124.11,290.66 1142.8,292.4 1161.49,294.19 1180.17,296.1 1198.86,298.19 1217.54,300.49 1236.23,303.01 1254.91,305.72 1273.6,308.57 1292.29,311.53 1310.97,314.68 1329.66,318.05 1348.34,321.59 1367.03,325.23 1385.71,329.08 1404.4,333.12 1423.09,337.32 1441.77,341.69 1460.46,346.25 1479.14,350.99 1497.83,355.91 1516.51,361.02 1535.2,366.27 1553.89,371.68 1572.57,377.24" stroke="#2DA6EC" stroke-width="4.3" fill="none" stroke-linejoin="round"/>
<path d="M1012 285.7h0M1030.69 285.7h0M1049.37 285.7h0M1068.06 286.02h0M1086.74 287.21h0M1105.43 288.92h0M1124.11 290.66h0M1142.8 292.4h0M1161.49 294.19h0M1180.17 296.1h0M1198.86 298.19h0M1217.54 300.49h0M1236.23 303.01h0M1254.91 305.72h0M1273.6 308.57h0M1292.29 311.53h0M1310.97 314.68h0M1329.66 318.05h0M1348.34 321.59h0M1367.03 325.23h0M1385.71 329.08h0M1404.4 333.12h0M1423.09 337.32h0M1441.77 341.69h0M1460.46 346.25h0M1479.14 350.99h0M1497.83 355.91h0M1516.51 361.02h0M1535.2 366.27h0M1553.89 371.68h0M1572.57 377.24h0" stroke="#000" stroke-width="9.8" stroke-linecap="round" fill="none"/>
<polyline points="1012,285.7 1030.69,285.7 1049.37,285.7 1068.06,285.93 1086.74,286.8 1105.43,288.04 1124.11,289.33 1142.8,290.64 1161.49,292 1180.17,293.44 1198.86,294.98 1217.54,296.63 1236.23,298.41 1254.91,300.29 1273.6,302.29 1292.29,304.4 1310.97,306.66 1329.66,309.07 1348.34,311.64 1367.03,314.33 1385.71,317.12 1404.4,320.1 1423.09,323.31 1441.77,326.66 1460.46,330.19 1479.14,333.91 1497.83,337.83 1516.51,341.95 1535.2,346.24 1553.89,350.73 1572.57,355.41" stroke="#A2142F" stroke-width="4.3" fill="none" stroke-linejoin="round"/>
<path d="M1012 285.7h0M1030.69 285.7h0M1049.37 285.7h0M1068.06 285.93h0M1086.74 286.8h0M1105.43 288.04h0M1124.11 289.33h0M1142.8 290.64h0M1161.49 292h0M1180.17 293.44h0M1198.86 294.98h0M1217.54 296.63h0M1236.23 298.41h0M1254.91 300.29h0M1273.6 302.29h0M1292.29 304.4h0M1310.97 306.66h0M1329.66 309.07h0M1348.34 311.64h0M1367.03 314.33h0M1385.71 317.12h0M1404.4 320.1h0M1423.09 323.31h0M1441.77 326.66h0M1460.46 330.19h0M1479.14 333.91h0M1497.83 337.83h0M1516.51 341.95h0M1535.2 346.24h0M1553.89 350.73h0M1572.57 355.41h0" stroke="#000" stroke-width="9.8" stroke-linecap="round" fill="none"/>
<polyline points="1012,285.7 1030.69,285.7 1049.37,285.7 1068.06,285.85 1086.74,286.39 1105.43,287.16 1124.11,288.04 1142.8,288.98 1161.49,289.97 1180.17,291.01 1198.86,292.1 1217.54,293.23 1236.23,294.41 1254.91,295.66 1273.6,296.99 1292.29,298.4 1310.97,299.93 1329.66,301.59 1348.34,303.35 1367.03,305.22 1385.71,307.18 1404.4,309.29 1423.09,311.6 1441.77,314.05 1460.46,316.65 1479.14,319.43 1497.83,322.38 1516.51,325.53 1535.2,328.86 1553.89,332.4 1572.57,336.13" stroke="#0072BD" stroke-width="4.3" fill="none" stroke-linejoin="round"/>
<path d="M1012 285.7h0M1030.69 285.7h0M1049.37 285.7h0M1068.06 285.85h0M1086.74 286.39h0M1105.43 287.16h0M1124.11 288.04h0M1142.8 288.98h0M1161.49 289.97h0M1180.17 291.01h0M1198.86 292.1h0M1217.54 293.23h0M1236.23 294.41h0M1254.91 295.66h0M1273.6 296.99h0M1292.29 298.4h0M1310.97 299.93h0M1329.66 301.59h0M1348.34 303.35h0M1367.03 305.22h0M1385.71 307.18h0M1404.4 309.29h0M1423.09 311.6h0M1441.77 314.05h0M1460.46 316.65h0M1479.14 319.43h0M1497.83 322.38h0M1516.51 325.53h0M1535.2 328.86h0M1553.89 332.4h0M1572.57 336.13h0" stroke="#000" stroke-width="9.8" stroke-linecap="round" fill="none"/>
<polyline points="1012,285.7 1030.69,285.7 1049.37,285.7 1068.06,285.79 1086.74,286.11 1105.43,286.58 1124.11,287.15 1142.8,287.79 1161.49,288.49 1180.17,289.23 1198.86,290.01 1217.54,290.81 1236.23,291.67 1254.91,292.57 1273.6,293.54 1292.29,294.56 1310.97,295.65 1329.66,296.83 1348.34,298.08 1367.03,299.39 1385.71,300.76 1404.4,302.23 1423.09,303.82 1441.77,305.49 1460.46,307.25 1479.14,309.12 1497.83,311.08 1516.51,313.16 1535.2,315.36 1553.89,317.69 1572.57,320.15" stroke="#FF00FF" stroke-width="4.3" fill="none" stroke-linejoin="round"/>
<path d="M1012 285.7h0M1030.69 285.7h0M1049.37 285.7h0M1068.06 285.79h0M1086.74 286.11h0M1105.43 286.58h0M1124.11 287.15h0M1142.8 287.79h0M1161.49 288.49h0M1180.17 289.23h0M1198.86 290.01h0M1217.54 290.81h0M1236.23 291.67h0M1254.91 292.57h0M1273.6 293.54h0M1292.29 294.56h0M1310.97 295.65h0M1329.66 296.83h0M1348.34 298.08h0M1367.03 299.39h0M1385.71 300.76h0M1404.4 302.23h0M1423.09 303.82h0M1441.77 305.49h0M1460.46 307.25h0M1479.14 309.12h0M1497.83 311.08h0M1516.51 313.16h0M1535.2 315.36h0M1553.89 317.69h0M1572.57 320.15h0" stroke="#000" stroke-width="9.8" stroke-linecap="round" fill="none"/>
<polyline points="1012,285.7 1030.69,285.7 1049.37,285.7 1068.06,285.76 1086.74,285.97 1105.43,286.28 1124.11,286.64 1142.8,287.01 1161.49,287.41 1180.17,287.84 1198.86,288.31 1217.54,288.83 1236.23,289.4 1254.91,290.02 1273.6,290.67 1292.29,291.36 1310.97,292.08 1329.66,292.85 1348.34,293.66 1367.03,294.51 1385.71,295.38 1404.4,296.29 1423.09,297.25 1441.77,298.25 1460.46,299.28 1479.14,300.35 1497.83,301.45 1516.51,302.59 1535.2,303.79 1553.89,305.04 1572.57,306.35" stroke="#F0189F" stroke-width="4.3" fill="none" stroke-linejoin="round"/>
<path d="M1012 285.7h0M1030.69 285.7h0M1049.37 285.7h0M1068.06 285.76h0M1086.74 285.97h0M1105.43 286.28h0M1124.11 286.64h0M1142.8 287.01h0M1161.49 287.41h0M1180.17 287.84h0M1198.86 288.31h0M1217.54 288.83h0M1236.23 289.4h0M1254.91 290.02h0M1273.6 290.67h0M1292.29 291.36h0M1310.97 292.08h0M1329.66 292.85h0M1348.34 293.66h0M1367.03 294.51h0M1385.71 295.38h0M1404.4 296.29h0M1423.09 297.25h0M1441.77 298.25h0M1460.46 299.28h0M1479.14 300.35h0M1497.83 301.45h0M1516.51 302.59h0M1535.2 303.79h0M1553.89 305.04h0M1572.57 306.35h0" stroke="#000" stroke-width="9.8" stroke-linecap="round" fill="none"/>
<polyline points="1012,285.7 1030.69,285.7 1049.37,285.7 1068.06,285.73 1086.74,285.84 1105.43,285.99 1124.11,286.15 1142.8,286.32 1161.49,286.49 1180.17,286.68 1198.86,286.89 1217.54,287.14 1236.23,287.42 1254.91,287.73 1273.6,288.06 1292.29,288.41 1310.97,288.78 1329.66,289.18 1348.34,289.6 1367.03,290.05 1385.71,290.51 1404.4,291 1423.09,291.51 1441.77,292.05 1460.46,292.61 1479.14,293.2 1497.83,293.8 1516.51,294.44 1535.2,295.09 1553.89,295.78 1572.57,296.5" stroke="#0000E6" stroke-width="4.3" fill="none" stroke-linejoin="round"/>
<path d="M1012 285.7h0M1030.69 285.7h0M1049.37 285.7h0M1068.06 285.73h0M1086.74 285.84h0M1105.43 285.99h0M1124.11 286.15h0M1142.8 286.32h0M1161.49 286.49h0M1180.17 286.68h0M1198.86 286.89h0M1217.54 287.14h0M1236.23 287.42h0M1254.91 287.73h0M1273.6 288.06h0M1292.29 288.41h0M1310.97 288.78h0M1329.66 289.18h0M1348.34 289.6h0M1367.03 290.05h0M1385.71 290.51h0M1404.4 291h0M1423.09 291.51h0M1441.77 292.05h0M1460.46 292.61h0M1479.14 293.2h0M1497.83 293.8h0M1516.51 294.44h0M1535.2 295.09h0M1553.89 295.78h0M1572.57 296.5h0" stroke="#000" stroke-width="9.8" stroke-linecap="round" fill="none"/>
<rect x="1012" y="51.8" width="654" height="467.8" fill="none" stroke="#8a8a8a" stroke-width="1.8"/>
<path d="M1105.43 519.6v-6.5M1105.43 51.8v6.5M1198.86 519.6v-6.5M1198.86 51.8v6.5M1292.29 519.6v-6.5M1292.29 51.8v6.5M1385.71 519.6v-6.5M1385.71 51.8v6.5M1479.14 519.6v-6.5M1479.14 51.8v6.5M1572.57 519.6v-6.5M1572.57 51.8v6.5M1012 110.27h6.5M1666 110.27h-6.5M1012 168.75h6.5M1666 168.75h-6.5M1012 227.23h6.5M1666 227.23h-6.5M1012 285.7h6.5M1666 285.7h-6.5M1012 344.18h6.5M1666 344.18h-6.5M1012 402.65h6.5M1666 402.65h-6.5M1012 461.12h6.5M1666 461.12h-6.5" stroke="#555" stroke-width="1.1" fill="none"/>
<g font-size="25" fill="#262626">
<text x="1004.6" y="61.7" text-anchor="end">0.8</text>
<text x="1004.6" y="120.17" text-anchor="end">0.6</text>
<text x="1004.6" y="178.65" text-anchor="end">0.4</text>
<text x="1004.6" y="237.13" text-anchor="end">0.2</text>
<text x="1004.6" y="295.6" text-anchor="end">0</text>
<text x="1004.6" y="354.07" text-anchor="end">-0.2</text>
<text x="1004.6" y="412.55" text-anchor="end">-0.4</text>
<text x="1004.6" y="471.02" text-anchor="end">-0.6</text>
<text x="1004.6" y="529.5" text-anchor="end">-0.8</text>
<text x="1012" y="552.7" text-anchor="middle">0.1</text>
<text x="1105.43" y="552.7" text-anchor="middle">0.15</text>
<text x="1198.86" y="552.7" text-anchor="middle">0.2</text>
<text x="1292.29" y="552.7" text-anchor="middle">0.25</text>
<text x="1385.71" y="552.7" text-anchor="middle">0.3</text>
<text x="1479.14" y="552.7" text-anchor="middle">0.35</text>
<text x="1572.57" y="552.7" text-anchor="middle">0.4</text>
<text x="1666" y="552.7" text-anchor="middle">0.45</text>
</g>
<text x="1339.5" y="587.4" text-anchor="middle" font-size="27.6" fill="#262626">Pressure (MPa)</text>
<text transform="translate(951.5 285.6) rotate(-90)" text-anchor="middle" font-size="27.6" fill="#262626">Rotation Motion Angle (Rad)</text>
<text x="1339.4" y="42.3" text-anchor="middle" font-size="27.6" fill="#000">FEA: Rotation Motion Angle vs Pressure</text>
<rect x="1583.3" y="150.3" width="180" height="316.2" fill="#fff" stroke="#7a7a7a" stroke-width="1.2"/>
<g font-size="22.3" fill="#000">
<path d="M1586.3 165.9H1617" stroke="#0FEF0F" stroke-width="4.3"/>
<text x="1620.3" y="174.1">θ 35</text>
<path d="M1669.4 165.9H1701.2" stroke="#0000E6" stroke-width="4.3"/>
<circle cx="1685.4" cy="165.9" r="4.8" fill="#000"/>
<text x="1703.9" y="174.1">θ 95</text>
<path d="M1586.3 194.42H1617" stroke="#D95319" stroke-width="4.3"/>
<text x="1620.3" y="202.62">θ 40</text>
<path d="M1669.4 194.42H1701.2" stroke="#F0189F" stroke-width="4.3"/>
<circle cx="1685.4" cy="194.42" r="4.8" fill="#000"/>
<text x="1703.9" y="202.62">θ 100</text>
<path d="M1586.3 222.94H1617" stroke="#EDB120" stroke-width="4.3"/>
<text x="1620.3" y="231.14">θ 45</text>
<path d="M1669.4 222.94H1701.2" stroke="#FF00FF" stroke-width="4.3"/>
<circle cx="1685.4" cy="222.94" r="4.8" fill="#000"/>
<text x="1703.9" y="231.14">θ 105</text>
<path d="M1586.3 251.46H1617" stroke="#7E2F8E" stroke-width="4.3"/>
<text x="1620.3" y="259.66">θ 50</text>
<path d="M1669.4 251.46H1701.2" stroke="#0072BD" stroke-width="4.3"/>
<circle cx="1685.4" cy="251.46" r="4.8" fill="#000"/>
<text x="1703.9" y="259.66">θ 110</text>
<path d="M1586.3 279.98H1617" stroke="#77AC30" stroke-width="4.3"/>
<text x="1620.3" y="288.18">θ 55</text>
<path d="M1669.4 279.98H1701.2" stroke="#A2142F" stroke-width="4.3"/>
<circle cx="1685.4" cy="279.98" r="4.8" fill="#000"/>
<text x="1703.9" y="288.18">θ 115</text>
<path d="M1586.3 308.5H1617" stroke="#4DBEEE" stroke-width="4.3"/>
<text x="1620.3" y="316.7">θ 60</text>
<path d="M1669.4 308.5H1701.2" stroke="#2DA6EC" stroke-width="4.3"/>
<circle cx="1685.4" cy="308.5" r="4.8" fill="#000"/>
<text x="1703.9" y="316.7">θ 120</text>
<path d="M1586.3 337.02H1617" stroke="#A2142F" stroke-width="4.3"/>
<text x="1620.3" y="345.22">θ 65</text>
<path d="M1669.4 337.02H1701.2" stroke="#77AC30" stroke-width="4.3"/>
<circle cx="1685.4" cy="337.02" r="4.8" fill="#000"/>
<text x="1703.9" y="345.22">θ 125</text>
<path d="M1586.3 365.54H1617" stroke="#0072BD" stroke-width="4.3"/>
<text x="1620.3" y="373.74">θ 70</text>
<path d="M1669.4 365.54H1701.2" stroke="#7E2F8E" stroke-width="4.3"/>
<circle cx="1685.4" cy="365.54" r="4.8" fill="#000"/>
<text x="1703.9" y="373.74">θ 130</text>
<path d="M1586.3 394.06H1617" stroke="#FF00FF" stroke-width="4.3"/>
<text x="1620.3" y="402.26">θ 75</text>
<path d="M1669.4 394.06H1701.2" stroke="#EDB120" stroke-width="4.3"/>
<circle cx="1685.4" cy="394.06" r="4.8" fill="#000"/>
<text x="1703.9" y="402.26">θ 135</text>
<path d="M1586.3 422.58H1617" stroke="#F0189F" stroke-width="4.3"/>
<text x="1620.3" y="430.78">θ 80</text>
<path d="M1669.4 422.58H1701.2" stroke="#D95319" stroke-width="4.3"/>
<circle cx="1685.4" cy="422.58" r="4.8" fill="#000"/>
<text x="1703.9" y="430.78">θ 140</text>
<path d="M1586.3 451.1H1617" stroke="#0000E6" stroke-width="4.3"/>
<text x="1620.3" y="459.3">θ 85</text>
<path d="M1669.4 451.1H1701.2" stroke="#0FEF0F" stroke-width="4.3"/>
<circle cx="1685.4" cy="451.1" r="4.8" fill="#000"/>
<text x="1703.9" y="459.3">θ 145</text>
</g>
</g>
<rect x="884" y="5" width="6.7" height="665" fill="#4472C4"/>
<text x="423" y="658.3" text-anchor="middle" font-size="37.3" style="font-family:'Liberation Serif', 'Times New Roman', Times, serif" fill="#000">(a)</text>
<text x="1333.9" y="655.3" text-anchor="middle" font-size="36.3" style="font-family:'Liberation Serif', 'Times New Roman', Times, serif" fill="#000">(b)</text>
</svg></body></html>
